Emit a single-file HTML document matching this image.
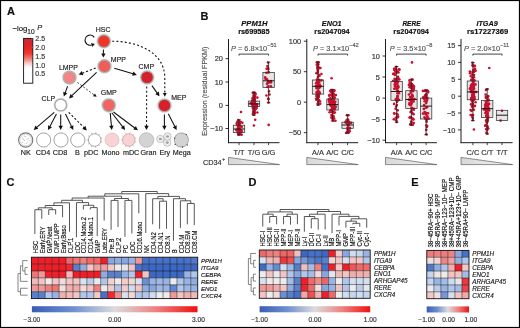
<!DOCTYPE html><html><head><meta charset="utf-8"><style>html,body{margin:0;padding:0;background:#fff;}svg{display:block;will-change:transform;}</style></head><body><svg width="520" height="328" viewBox="0 0 520 328" font-family='"Liberation Sans", sans-serif'>
<defs>
<linearGradient id="cbA" x1="0" y1="0" x2="0" y2="1"><stop offset="0" stop-color="#c92a30"/><stop offset="0.12" stop-color="#d8262b"/><stop offset="0.22" stop-color="#ea2224"/><stop offset="0.34" stop-color="#ef3b30"/><stop offset="0.45" stop-color="#f37a72"/><stop offset="0.55" stop-color="#f9c6c6"/><stop offset="0.62" stop-color="#fdeeee"/><stop offset="0.67" stop-color="#ffffff"/><stop offset="1" stop-color="#ffffff"/></linearGradient>
<linearGradient id="cbC" x1="0" y1="0" x2="1" y2="0"><stop offset="0" stop-color="#3a5db5"/><stop offset="0.25" stop-color="#6f8fd0"/><stop offset="0.5" stop-color="#dcdcdc"/><stop offset="0.75" stop-color="#ee8080"/><stop offset="1" stop-color="#ee1111"/></linearGradient>
<linearGradient id="tri" x1="0" y1="0" x2="1" y2="0"><stop offset="0" stop-color="#d8d8d8"/><stop offset="1" stop-color="#f4f4f4"/></linearGradient>
<marker id="ah" viewBox="0 0 10 10" refX="9" refY="5" markerWidth="4.2" markerHeight="4.2" markerUnits="userSpaceOnUse" orient="auto"><path d="M0,0L10,5L0,10z" fill="#111"/></marker>
</defs>
<rect x="0" y="0" width="520" height="328" fill="#fff"/>
<text x="7" y="15.2" font-size="11" text-anchor="start" font-weight="bold" font-style="normal" fill="#111"  stroke="#111" stroke-width="0.16">A</text>
<text x="12.4" y="30.6" font-size="7.8" fill="#222" stroke="#222" stroke-width="0.16">−log<tspan font-size="6.6" dy="3.1">10</tspan><tspan dx="2.6" dy="-3.6" font-size="7.4" font-style="italic">P</tspan></text>
<rect x="23.6" y="38.4" width="9.2" height="44.8" fill="url(#cbA)" stroke="#111" stroke-width="0.9"/>
<text x="35.3" y="41.0" font-size="7" text-anchor="start" font-weight="normal" font-style="normal" fill="#333"  stroke="#333" stroke-width="0.16">2.5</text>
<line x1="31.5" y1="38.50" x2="32.8" y2="38.50" stroke="#999" stroke-width="0.5"/>
<text x="35.3" y="49.85" font-size="7" text-anchor="start" font-weight="normal" font-style="normal" fill="#333"  stroke="#333" stroke-width="0.16">2.0</text>
<line x1="31.5" y1="47.35" x2="32.8" y2="47.35" stroke="#999" stroke-width="0.5"/>
<text x="35.3" y="58.7" font-size="7" text-anchor="start" font-weight="normal" font-style="normal" fill="#333"  stroke="#333" stroke-width="0.16">1.5</text>
<line x1="31.5" y1="56.20" x2="32.8" y2="56.20" stroke="#999" stroke-width="0.5"/>
<text x="35.3" y="67.55" font-size="7" text-anchor="start" font-weight="normal" font-style="normal" fill="#333"  stroke="#333" stroke-width="0.16">1.0</text>
<line x1="31.5" y1="65.05" x2="32.8" y2="65.05" stroke="#999" stroke-width="0.5"/>
<text x="35.3" y="76.4" font-size="7" text-anchor="start" font-weight="normal" font-style="normal" fill="#333"  stroke="#333" stroke-width="0.16">0.5</text>
<line x1="31.5" y1="73.90" x2="32.8" y2="73.90" stroke="#999" stroke-width="0.5"/>
<circle cx="103.9" cy="41.2" r="7.10" fill="#aab3b2"/>
<circle cx="103.9" cy="41.2" r="7.35" fill="none" stroke="#d5dada" stroke-width="0.5"/>
<circle cx="103.9" cy="41.2" r="5.7" fill="#ee3527"/>
<circle cx="104.5" cy="66.2" r="7.10" fill="#aab3b2"/>
<circle cx="104.5" cy="66.2" r="7.35" fill="none" stroke="#d5dada" stroke-width="0.5"/>
<circle cx="104.5" cy="66.2" r="5.7" fill="#ef5d56"/>
<circle cx="69.5" cy="77.6" r="7.10" fill="#aab3b2"/>
<circle cx="69.5" cy="77.6" r="7.35" fill="none" stroke="#d5dada" stroke-width="0.5"/>
<circle cx="69.5" cy="77.6" r="5.7" fill="#f28585"/>
<circle cx="147.1" cy="77.4" r="7.10" fill="#aab3b2"/>
<circle cx="147.1" cy="77.4" r="7.35" fill="none" stroke="#d5dada" stroke-width="0.5"/>
<circle cx="147.1" cy="77.4" r="5.7" fill="#d6202a"/>
<circle cx="60.7" cy="105.0" r="6.70" fill="#a8a8a8"/>
<circle cx="60.7" cy="105.0" r="6.95" fill="none" stroke="#d5dada" stroke-width="0.5"/>
<circle cx="60.7" cy="105.0" r="5.2" fill="#ffffff"/>
<circle cx="108.8" cy="105.3" r="7.10" fill="#aab3b2"/>
<circle cx="108.8" cy="105.3" r="7.35" fill="none" stroke="#d5dada" stroke-width="0.5"/>
<circle cx="108.8" cy="105.3" r="5.7" fill="#f06461"/>
<circle cx="164.5" cy="105.5" r="7.10" fill="#aab3b2"/>
<circle cx="164.5" cy="105.5" r="7.35" fill="none" stroke="#d5dada" stroke-width="0.5"/>
<circle cx="164.5" cy="105.5" r="5.7" fill="#d91f29"/>
<text x="103.2" y="31.8" font-size="7" text-anchor="middle" font-weight="normal" font-style="normal" fill="#222"  stroke="#222" stroke-width="0.16">HSC</text>
<text x="110.8" y="61.8" font-size="7" text-anchor="start" font-weight="normal" font-style="normal" fill="#222"  stroke="#222" stroke-width="0.16">MPP</text>
<text x="58.9" y="69.6" font-size="7" text-anchor="start" font-weight="normal" font-style="normal" fill="#222"  stroke="#222" stroke-width="0.16">LMPP</text>
<text x="138.5" y="68.5" font-size="7" text-anchor="start" font-weight="normal" font-style="normal" fill="#222"  stroke="#222" stroke-width="0.16">CMP</text>
<text x="41.6" y="101.0" font-size="7" text-anchor="start" font-weight="normal" font-style="normal" fill="#222"  stroke="#222" stroke-width="0.16">CLP</text>
<text x="100.7" y="95.1" font-size="7" text-anchor="start" font-weight="normal" font-style="normal" fill="#222"  stroke="#222" stroke-width="0.16">GMP</text>
<text x="171.2" y="99.9" font-size="7" text-anchor="start" font-weight="normal" font-style="normal" fill="#222"  stroke="#222" stroke-width="0.16">MEP</text>
<line x1="103.4" y1="49.6" x2="103.40" y2="53.70" stroke="#111" stroke-width="1.05"/>
<path d="M103.40,57.60L101.20,53.40L105.60,53.40z" fill="#111"/>
<line x1="95.7" y1="68.0" x2="82.34" y2="73.19" stroke="#111" stroke-width="1.05" stroke-dasharray="2.2,1.9"/>
<path d="M78.70,74.60L81.82,71.03L83.41,75.13z" fill="#111"/>
<line x1="96.6" y1="72.4" x2="71.84" y2="95.73" stroke="#111" stroke-width="1.05"/>
<path d="M69.00,98.40L70.55,93.92L73.57,97.12z" fill="#111"/>
<line x1="114.3" y1="68.2" x2="133.06" y2="73.79" stroke="#111" stroke-width="1.05"/>
<path d="M136.80,74.90L132.15,75.81L133.40,71.59z" fill="#111"/>
<line x1="67.6" y1="86.3" x2="65.16" y2="92.85" stroke="#111" stroke-width="1.05"/>
<path d="M63.80,96.50L63.20,91.80L67.33,93.33z" fill="#111"/>
<line x1="77.4" y1="82.4" x2="94.22" y2="94.95" stroke="#111" stroke-width="0.85" stroke-dasharray="1.8,1.9"/>
<path d="M96.70,96.80L92.96,96.13L94.99,93.40z" fill="#111"/>
<line x1="151.9" y1="85.6" x2="157.24" y2="93.12" stroke="#111" stroke-width="1.05"/>
<path d="M159.50,96.30L155.27,94.15L158.86,91.60z" fill="#111"/>
<line x1="146.7" y1="86.5" x2="146.52" y2="126.00" stroke="#111" stroke-width="1.05" stroke-dasharray="2,2.2"/>
<path d="M146.50,129.90L144.32,125.69L148.72,125.71z" fill="#111"/>
<path d="M112.2,41.2 C137,41.2 164.8,52 164.8,78 L164.8,93" fill="none" stroke="#111" stroke-width="1.1" stroke-dasharray="2,2.2"/>
<path d="M164.8,96.8 L162.9,92.9 L166.7,92.9z" fill="#111"/>
<path d="M94.20,37.33 A5.0,5.0 0 1,0 91.65,44.96" fill="none" stroke="#111" stroke-width="1.15"/>
<path d="M94.88,43.90 L92.29,46.95 L91.00,42.96z" fill="#111"/>
<line x1="54.3" y1="112.3" x2="36.67" y2="127.37" stroke="#111" stroke-width="1.05"/>
<path d="M33.70,129.90L35.46,125.50L38.32,128.84z" fill="#111"/>
<line x1="56.4" y1="113.9" x2="49.90" y2="126.44" stroke="#111" stroke-width="1.05"/>
<path d="M48.10,129.90L48.08,125.16L51.99,127.18z" fill="#111"/>
<line x1="60.7" y1="114.4" x2="60.70" y2="126.00" stroke="#111" stroke-width="1.05"/>
<path d="M60.70,129.90L58.50,125.70L62.90,125.70z" fill="#111"/>
<line x1="65.5" y1="113.9" x2="71.51" y2="126.39" stroke="#111" stroke-width="1.05"/>
<path d="M73.20,129.90L69.40,127.07L73.36,125.16z" fill="#111"/>
<line x1="68.7" y1="112.3" x2="84.04" y2="127.64" stroke="#111" stroke-width="1.05" stroke-dasharray="2.2,1.9"/>
<path d="M86.80,130.40L82.27,128.99L85.39,125.87z" fill="#111"/>
<line x1="110.2" y1="113.0" x2="111.43" y2="126.02" stroke="#111" stroke-width="1.05"/>
<path d="M111.80,129.90L109.21,125.93L113.59,125.51z" fill="#111"/>
<line x1="111.8" y1="112.8" x2="122.71" y2="126.82" stroke="#111" stroke-width="1.05"/>
<path d="M125.10,129.90L120.78,127.94L124.26,125.23z" fill="#111"/>
<line x1="113.5" y1="112.0" x2="134.78" y2="127.96" stroke="#111" stroke-width="1.05"/>
<path d="M137.90,130.30L133.22,129.54L135.86,126.02z" fill="#111"/>
<line x1="164.4" y1="114.4" x2="164.40" y2="126.00" stroke="#111" stroke-width="1.05"/>
<path d="M164.40,129.90L162.20,125.70L166.60,125.70z" fill="#111"/>
<line x1="168.3" y1="113.8" x2="174.81" y2="126.43" stroke="#111" stroke-width="1.05"/>
<path d="M176.60,129.90L172.72,127.17L176.63,125.16z" fill="#111"/>
<circle cx="25.7" cy="140.0" r="7.1" fill="#fff" stroke="#777" stroke-width="1.1"/>
<circle cx="25.7" cy="140.0" r="5.8" fill="none" stroke="#bbb" stroke-width="0.6"/>
<circle cx="22.7" cy="138.0" r="0.45" fill="#888"/>
<circle cx="25.7" cy="136.5" r="0.45" fill="#888"/>
<circle cx="28.2" cy="138.5" r="0.45" fill="#888"/>
<circle cx="24.7" cy="140.5" r="0.45" fill="#888"/>
<circle cx="27.7" cy="142.0" r="0.45" fill="#888"/>
<circle cx="22.7" cy="142.5" r="0.45" fill="#888"/>
<circle cx="26.2" cy="143.5" r="0.45" fill="#888"/>
<circle cx="29.2" cy="140.8" r="0.45" fill="#888"/>
<circle cx="24.2" cy="136.0" r="0.45" fill="#888"/>
<circle cx="26.9" cy="139.2" r="0.45" fill="#888"/>
<circle cx="23.4" cy="139.5" r="0.45" fill="#888"/>
<circle cx="43.6" cy="140.0" r="7.1" fill="#fff" stroke="#8a8a8a" stroke-width="0.8"/>
<circle cx="61.0" cy="140.0" r="7.1" fill="#fff" stroke="#8a8a8a" stroke-width="0.8"/>
<circle cx="77.8" cy="140.0" r="7.1" fill="#fff" stroke="#8a8a8a" stroke-width="0.8"/>
<circle cx="94.7" cy="140.0" r="6.3" fill="#fff" stroke="#888" stroke-width="0.7"/>
<line x1="100.72" y1="141.86" x2="102.15" y2="142.31" stroke="#888" stroke-width="0.6"/>
<line x1="98.76" y1="144.82" x2="99.72" y2="145.97" stroke="#888" stroke-width="0.6"/>
<line x1="95.51" y1="146.25" x2="95.70" y2="147.74" stroke="#888" stroke-width="0.6"/>
<line x1="92.00" y1="145.69" x2="91.36" y2="147.05" stroke="#888" stroke-width="0.6"/>
<line x1="89.35" y1="143.33" x2="88.08" y2="144.12" stroke="#888" stroke-width="0.6"/>
<line x1="88.40" y1="139.91" x2="86.90" y2="139.89" stroke="#888" stroke-width="0.6"/>
<line x1="89.45" y1="136.52" x2="88.20" y2="135.69" stroke="#888" stroke-width="0.6"/>
<line x1="92.17" y1="134.23" x2="91.56" y2="132.86" stroke="#888" stroke-width="0.6"/>
<line x1="95.69" y1="133.78" x2="95.92" y2="132.30" stroke="#888" stroke-width="0.6"/>
<line x1="98.89" y1="135.30" x2="99.89" y2="134.18" stroke="#888" stroke-width="0.6"/>
<line x1="100.77" y1="138.31" x2="102.21" y2="137.91" stroke="#888" stroke-width="0.6"/>
<circle cx="112.0" cy="140.0" r="7.0" fill="#f9d3d3" stroke="#d9b0b0" stroke-width="0.6"/>
<circle cx="128.8" cy="140.0" r="6.3" fill="#f9d3d3" stroke="#c09a9a" stroke-width="0.7"/>
<line x1="134.82" y1="141.86" x2="136.25" y2="142.31" stroke="#c09a9a" stroke-width="0.6"/>
<line x1="132.86" y1="144.82" x2="133.82" y2="145.97" stroke="#c09a9a" stroke-width="0.6"/>
<line x1="129.61" y1="146.25" x2="129.80" y2="147.74" stroke="#c09a9a" stroke-width="0.6"/>
<line x1="126.10" y1="145.69" x2="125.46" y2="147.05" stroke="#c09a9a" stroke-width="0.6"/>
<line x1="123.45" y1="143.33" x2="122.18" y2="144.12" stroke="#c09a9a" stroke-width="0.6"/>
<line x1="122.50" y1="139.91" x2="121.00" y2="139.89" stroke="#c09a9a" stroke-width="0.6"/>
<line x1="123.55" y1="136.52" x2="122.30" y2="135.69" stroke="#c09a9a" stroke-width="0.6"/>
<line x1="126.27" y1="134.23" x2="125.66" y2="132.86" stroke="#c09a9a" stroke-width="0.6"/>
<line x1="129.79" y1="133.78" x2="130.02" y2="132.30" stroke="#c09a9a" stroke-width="0.6"/>
<line x1="132.99" y1="135.30" x2="133.99" y2="134.18" stroke="#c09a9a" stroke-width="0.6"/>
<line x1="134.87" y1="138.31" x2="136.31" y2="137.91" stroke="#c09a9a" stroke-width="0.6"/>
<circle cx="146.5" cy="140.0" r="7.3" fill="#d3d3d3" stroke="#aaa" stroke-width="0.7"/>
<circle cx="160.4" cy="139.0" r="3.7" fill="#fafafa" stroke="#9a9a9a" stroke-width="0.6"/>
<circle cx="160.4" cy="139.0" r="2.5" fill="none" stroke="#e2e2e2" stroke-width="0.8"/>
<ellipse cx="160.4" cy="139.0" rx="1.6" ry="1.3" fill="#a0a0a0"/>
<circle cx="167.2" cy="142.6" r="3.7" fill="#fafafa" stroke="#9a9a9a" stroke-width="0.6"/>
<circle cx="167.2" cy="142.6" r="2.5" fill="none" stroke="#e2e2e2" stroke-width="0.8"/>
<ellipse cx="167.2" cy="142.6" rx="1.6" ry="1.3" fill="#a0a0a0"/>
<circle cx="167.5" cy="136.5" r="3.7" fill="#fafafa" stroke="#9a9a9a" stroke-width="0.6"/>
<circle cx="167.5" cy="136.5" r="2.5" fill="none" stroke="#e2e2e2" stroke-width="0.8"/>
<ellipse cx="167.5" cy="136.5" rx="1.6" ry="1.3" fill="#a0a0a0"/>
<path d="M181.5,133.0 C185.5,133.0 188.3,135.6 188.3,139.6 C188.3,143.8 185.6,147.0 181.4,147.0 C177.0,147.0 174.4,144.2 174.4,140.2 C174.4,136.0 177.2,133.0 181.5,133.0z" fill="#d3d3d3" stroke="#777" stroke-width="0.6"/>
<circle cx="186.4" cy="134.6" r="0.7" fill="#444"/>
<circle cx="187.2" cy="145.0" r="0.7" fill="#444"/>
<circle cx="182.5" cy="147.0" r="0.7" fill="#444"/>
<circle cx="175.2" cy="144.4" r="0.7" fill="#444"/>
<circle cx="174.6" cy="138.2" r="0.7" fill="#444"/>
<text x="20.8" y="155.4" font-size="7.2" text-anchor="start" font-weight="normal" font-style="normal" fill="#222"  stroke="#222" stroke-width="0.16">NK</text>
<text x="35.8" y="155.4" font-size="7.2" text-anchor="start" font-weight="normal" font-style="normal" fill="#222"  stroke="#222" stroke-width="0.16">CD4</text>
<text x="52.8" y="155.4" font-size="7.2" text-anchor="start" font-weight="normal" font-style="normal" fill="#222"  stroke="#222" stroke-width="0.16">CD8</text>
<text x="74.9" y="155.4" font-size="7.2" text-anchor="start" font-weight="normal" font-style="normal" fill="#222"  stroke="#222" stroke-width="0.16">B</text>
<text x="84.1" y="155.4" font-size="7.2" text-anchor="start" font-weight="normal" font-style="normal" fill="#222"  stroke="#222" stroke-width="0.16">pDC</text>
<text x="101.5" y="155.4" font-size="7.2" text-anchor="start" font-weight="normal" font-style="normal" fill="#222"  stroke="#222" stroke-width="0.16">Mono</text>
<text x="122.9" y="155.4" font-size="7.2" text-anchor="start" font-weight="normal" font-style="normal" fill="#222"  stroke="#222" stroke-width="0.16">mDC</text>
<text x="140.5" y="155.4" font-size="7.2" text-anchor="start" font-weight="normal" font-style="normal" fill="#222"  stroke="#222" stroke-width="0.16">Gran</text>
<text x="159.4" y="155.4" font-size="7.2" text-anchor="start" font-weight="normal" font-style="normal" fill="#222"  stroke="#222" stroke-width="0.16">Ery</text>
<text x="172.7" y="155.4" font-size="7.2" text-anchor="start" font-weight="normal" font-style="normal" fill="#222"  stroke="#222" stroke-width="0.16">Mega</text>
<text x="200.6" y="19.6" font-size="11" text-anchor="start" font-weight="bold" font-style="normal" fill="#111"  stroke="#111" stroke-width="0.16">B</text>
<text x="254.35" y="25.8" font-size="7.3" text-anchor="middle" font-weight="bold" font-style="italic" fill="#111" textLength="26.2" lengthAdjust="spacingAndGlyphs" stroke="#111" stroke-width="0.16">PPM1H</text>
<text x="253.85" y="34.3" font-size="7.1" text-anchor="middle" font-weight="bold" font-style="normal" fill="#111" textLength="31.4" lengthAdjust="spacingAndGlyphs" stroke="#111" stroke-width="0.16">rs699585</text>
<text x="231" y="50.6" font-size="7.4" fill="#555" stroke="#555" stroke-width="0.16"><tspan font-style="italic">P</tspan> = 6.8×10<tspan font-size="5.6" dy="-3.4">−51</tspan></text>
<path d="M239,55.6 L239,54.1 L268.6,54.1 L268.6,55.6" fill="none" stroke="#222" stroke-width="0.85"/>
<line x1="228.5" y1="39" x2="228.5" y2="143.1" stroke="#111" stroke-width="0.95"/>
<line x1="228.05" y1="142.7" x2="279.5" y2="142.7" stroke="#111" stroke-width="0.95"/>
<line x1="225.5" y1="58.7" x2="228.5" y2="58.7" stroke="#111" stroke-width="0.85"/>
<text x="222.9" y="61.3" font-size="7.4" text-anchor="end" font-weight="normal" font-style="normal" fill="#333"  stroke="#333" stroke-width="0.16">20</text>
<line x1="225.5" y1="82.0" x2="228.5" y2="82.0" stroke="#111" stroke-width="0.85"/>
<text x="222.9" y="84.6" font-size="7.4" text-anchor="end" font-weight="normal" font-style="normal" fill="#333"  stroke="#333" stroke-width="0.16">10</text>
<line x1="225.5" y1="105.4" x2="228.5" y2="105.4" stroke="#111" stroke-width="0.85"/>
<text x="222.9" y="108.0" font-size="7.4" text-anchor="end" font-weight="normal" font-style="normal" fill="#333"  stroke="#333" stroke-width="0.16">0</text>
<line x1="225.5" y1="128.5" x2="228.5" y2="128.5" stroke="#111" stroke-width="0.85"/>
<text x="222.9" y="131.1" font-size="7.4" text-anchor="end" font-weight="normal" font-style="normal" fill="#333"  stroke="#333" stroke-width="0.16">−10</text>
<line x1="239" y1="142.7" x2="239" y2="145.2" stroke="#111" stroke-width="0.8"/>
<text x="239" y="155.1" font-size="7.4" text-anchor="middle" font-weight="normal" font-style="normal" fill="#333"  stroke="#333" stroke-width="0.16">T/T</text>
<line x1="254" y1="142.7" x2="254" y2="145.2" stroke="#111" stroke-width="0.8"/>
<text x="254" y="155.1" font-size="7.4" text-anchor="middle" font-weight="normal" font-style="normal" fill="#333"  stroke="#333" stroke-width="0.16">T/G</text>
<line x1="268.6" y1="142.7" x2="268.6" y2="145.2" stroke="#111" stroke-width="0.8"/>
<text x="268.6" y="155.1" font-size="7.4" text-anchor="middle" font-weight="normal" font-style="normal" fill="#333"  stroke="#333" stroke-width="0.16">G/G</text>
<path d="M228.5,157.4 L279.5,164.6 L228.5,164.6 z" fill="url(#tri)" stroke="#444" stroke-width="0.6"/>
<rect x="233.3" y="125.2" width="11.4" height="7.20" fill="#e6e6e6"/>
<circle cx="240.19" cy="126.32" r="1.3" fill="#c8102e"/>
<circle cx="240.65" cy="121.80" r="1.3" fill="#c8102e"/>
<circle cx="238.68" cy="129.49" r="1.3" fill="#c8102e"/>
<circle cx="239.36" cy="129.10" r="1.3" fill="#c8102e"/>
<circle cx="238.51" cy="120.98" r="1.3" fill="#c8102e"/>
<circle cx="239.22" cy="122.20" r="1.3" fill="#c8102e"/>
<circle cx="239.33" cy="127.85" r="1.3" fill="#c8102e"/>
<circle cx="238.36" cy="124.73" r="1.3" fill="#c8102e"/>
<circle cx="240.74" cy="130.73" r="1.3" fill="#c8102e"/>
<circle cx="238.41" cy="127.43" r="1.3" fill="#c8102e"/>
<circle cx="241.65" cy="134.70" r="1.3" fill="#c8102e"/>
<circle cx="239.80" cy="125.80" r="1.3" fill="#c8102e"/>
<circle cx="239.89" cy="123.28" r="1.3" fill="#c8102e"/>
<circle cx="239.81" cy="132.89" r="1.3" fill="#c8102e"/>
<circle cx="237.26" cy="123.97" r="1.3" fill="#c8102e"/>
<circle cx="238.02" cy="127.06" r="1.3" fill="#c8102e"/>
<circle cx="239.45" cy="129.65" r="1.3" fill="#c8102e"/>
<circle cx="239.19" cy="124.42" r="1.3" fill="#c8102e"/>
<circle cx="237.91" cy="131.45" r="1.3" fill="#c8102e"/>
<circle cx="239.53" cy="130.16" r="1.3" fill="#c8102e"/>
<circle cx="238.23" cy="128.29" r="1.3" fill="#c8102e"/>
<circle cx="241.37" cy="131.71" r="1.3" fill="#c8102e"/>
<circle cx="237.47" cy="125.10" r="1.3" fill="#c8102e"/>
<circle cx="238.23" cy="133.49" r="1.3" fill="#c8102e"/>
<circle cx="238.07" cy="132.12" r="1.3" fill="#c8102e"/>
<circle cx="242.40" cy="122.76" r="1.3" fill="#c8102e"/>
<circle cx="239.04" cy="127.76" r="1.3" fill="#c8102e"/>
<circle cx="238.20" cy="128.83" r="1.3" fill="#c8102e"/>
<circle cx="237.83" cy="121.03" r="1.3" fill="#c8102e"/>
<circle cx="236.93" cy="129.99" r="1.3" fill="#c8102e"/>
<circle cx="238.16" cy="133.50" r="1.3" fill="#c8102e"/>
<circle cx="240.99" cy="130.28" r="1.3" fill="#c8102e"/>
<circle cx="236.42" cy="130.09" r="1.3" fill="#c8102e"/>
<circle cx="239.73" cy="134.30" r="1.3" fill="#c8102e"/>
<circle cx="238.75" cy="128.61" r="1.3" fill="#c8102e"/>
<circle cx="238.58" cy="131.74" r="1.3" fill="#c8102e"/>
<circle cx="241.60" cy="131.00" r="1.3" fill="#c8102e"/>
<circle cx="238.89" cy="125.73" r="1.3" fill="#c8102e"/>
<circle cx="238.85" cy="127.26" r="1.3" fill="#c8102e"/>
<circle cx="238.74" cy="128.42" r="1.3" fill="#c8102e"/>
<circle cx="239.36" cy="123.73" r="1.3" fill="#c8102e"/>
<circle cx="239.33" cy="132.50" r="1.3" fill="#c8102e"/>
<circle cx="239.02" cy="122.99" r="1.3" fill="#c8102e"/>
<circle cx="240.39" cy="133.45" r="1.3" fill="#c8102e"/>
<circle cx="237.32" cy="121.98" r="1.3" fill="#c8102e"/>
<circle cx="239.55" cy="133.59" r="1.3" fill="#c8102e"/>
<circle cx="239.74" cy="132.92" r="1.3" fill="#c8102e"/>
<circle cx="238.15" cy="127.71" r="1.3" fill="#c8102e"/>
<circle cx="241.63" cy="126.85" r="1.3" fill="#c8102e"/>
<circle cx="236.66" cy="123.41" r="1.3" fill="#c8102e"/>
<circle cx="238.48" cy="120.10" r="1.3" fill="#c8102e"/>
<circle cx="238.57" cy="134.70" r="1.3" fill="#c8102e"/>
<circle cx="241.00" cy="112.00" r="1.3" fill="#c8102e"/>
<line x1="239" y1="119.8" x2="239" y2="125.2" stroke="#222" stroke-width="0.8"/>
<line x1="239" y1="132.4" x2="239" y2="135.0" stroke="#222" stroke-width="0.8"/>
<line x1="237.2" y1="119.8" x2="240.8" y2="119.8" stroke="#222" stroke-width="0.8"/>
<line x1="237.2" y1="135.0" x2="240.8" y2="135.0" stroke="#222" stroke-width="0.8"/>
<rect x="233.3" y="125.2" width="11.4" height="7.20" fill="none" stroke="#333" stroke-width="0.75"/>
<line x1="233.3" y1="129.0" x2="244.7" y2="129.0" stroke="#111" stroke-width="0.95"/>
<rect x="248.3" y="101.1" width="11.4" height="5.40" fill="#e6e6e6"/>
<circle cx="252.14" cy="100.63" r="1.3" fill="#c8102e"/>
<circle cx="254.18" cy="101.24" r="1.3" fill="#c8102e"/>
<circle cx="252.83" cy="92.72" r="1.3" fill="#c8102e"/>
<circle cx="254.66" cy="104.59" r="1.3" fill="#c8102e"/>
<circle cx="253.38" cy="113.13" r="1.3" fill="#c8102e"/>
<circle cx="252.43" cy="105.12" r="1.3" fill="#c8102e"/>
<circle cx="256.83" cy="105.73" r="1.3" fill="#c8102e"/>
<circle cx="255.00" cy="107.11" r="1.3" fill="#c8102e"/>
<circle cx="254.41" cy="110.10" r="1.3" fill="#c8102e"/>
<circle cx="252.67" cy="102.77" r="1.3" fill="#c8102e"/>
<circle cx="253.67" cy="96.70" r="1.3" fill="#c8102e"/>
<circle cx="253.62" cy="95.45" r="1.3" fill="#c8102e"/>
<circle cx="254.67" cy="99.93" r="1.3" fill="#c8102e"/>
<circle cx="255.09" cy="94.90" r="1.3" fill="#c8102e"/>
<circle cx="254.38" cy="92.43" r="1.3" fill="#c8102e"/>
<circle cx="254.53" cy="102.37" r="1.3" fill="#c8102e"/>
<circle cx="255.36" cy="93.80" r="1.3" fill="#c8102e"/>
<circle cx="252.63" cy="98.14" r="1.3" fill="#c8102e"/>
<circle cx="253.23" cy="101.13" r="1.3" fill="#c8102e"/>
<circle cx="255.09" cy="97.33" r="1.3" fill="#c8102e"/>
<circle cx="255.57" cy="109.20" r="1.3" fill="#c8102e"/>
<circle cx="253.93" cy="103.72" r="1.3" fill="#c8102e"/>
<circle cx="255.03" cy="96.10" r="1.3" fill="#c8102e"/>
<circle cx="254.77" cy="101.27" r="1.3" fill="#c8102e"/>
<circle cx="254.16" cy="108.53" r="1.3" fill="#c8102e"/>
<circle cx="254.26" cy="113.05" r="1.3" fill="#c8102e"/>
<circle cx="255.06" cy="104.19" r="1.3" fill="#c8102e"/>
<circle cx="255.40" cy="93.87" r="1.3" fill="#c8102e"/>
<circle cx="256.77" cy="104.19" r="1.3" fill="#c8102e"/>
<circle cx="253.62" cy="105.94" r="1.3" fill="#c8102e"/>
<circle cx="253.43" cy="101.22" r="1.3" fill="#c8102e"/>
<circle cx="254.63" cy="106.91" r="1.3" fill="#c8102e"/>
<circle cx="254.23" cy="104.24" r="1.3" fill="#c8102e"/>
<circle cx="252.77" cy="100.34" r="1.3" fill="#c8102e"/>
<circle cx="256.73" cy="107.99" r="1.3" fill="#c8102e"/>
<circle cx="253.74" cy="107.83" r="1.3" fill="#c8102e"/>
<circle cx="253.94" cy="108.20" r="1.3" fill="#c8102e"/>
<circle cx="253.00" cy="104.08" r="1.3" fill="#c8102e"/>
<circle cx="254.33" cy="102.28" r="1.3" fill="#c8102e"/>
<circle cx="254.06" cy="101.43" r="1.3" fill="#c8102e"/>
<circle cx="252.76" cy="101.20" r="1.3" fill="#c8102e"/>
<circle cx="250.72" cy="103.31" r="1.3" fill="#c8102e"/>
<circle cx="257.40" cy="112.48" r="1.3" fill="#c8102e"/>
<circle cx="253.74" cy="102.38" r="1.3" fill="#c8102e"/>
<circle cx="254.13" cy="100.27" r="1.3" fill="#c8102e"/>
<circle cx="254.92" cy="99.80" r="1.3" fill="#c8102e"/>
<circle cx="256.17" cy="105.19" r="1.3" fill="#c8102e"/>
<circle cx="252.43" cy="103.67" r="1.3" fill="#c8102e"/>
<circle cx="254.18" cy="105.49" r="1.3" fill="#c8102e"/>
<circle cx="253.44" cy="105.57" r="1.3" fill="#c8102e"/>
<circle cx="254.47" cy="111.41" r="1.3" fill="#c8102e"/>
<circle cx="251.72" cy="103.65" r="1.3" fill="#c8102e"/>
<circle cx="254.31" cy="99.05" r="1.3" fill="#c8102e"/>
<circle cx="252.78" cy="107.67" r="1.3" fill="#c8102e"/>
<circle cx="252.87" cy="113.90" r="1.3" fill="#c8102e"/>
<circle cx="254.86" cy="112.88" r="1.3" fill="#c8102e"/>
<circle cx="254.35" cy="106.24" r="1.3" fill="#c8102e"/>
<circle cx="254.64" cy="98.22" r="1.3" fill="#c8102e"/>
<circle cx="254.27" cy="111.23" r="1.3" fill="#c8102e"/>
<circle cx="253.26" cy="108.46" r="1.3" fill="#c8102e"/>
<circle cx="253.28" cy="114.26" r="1.3" fill="#c8102e"/>
<circle cx="252.91" cy="104.41" r="1.3" fill="#c8102e"/>
<circle cx="257.40" cy="97.59" r="1.3" fill="#c8102e"/>
<circle cx="254.33" cy="105.46" r="1.3" fill="#c8102e"/>
<circle cx="255.37" cy="104.18" r="1.3" fill="#c8102e"/>
<circle cx="253.40" cy="110.00" r="1.3" fill="#c8102e"/>
<circle cx="254.26" cy="108.45" r="1.3" fill="#c8102e"/>
<circle cx="255.03" cy="101.58" r="1.3" fill="#c8102e"/>
<circle cx="253.07" cy="100.84" r="1.3" fill="#c8102e"/>
<circle cx="253.44" cy="102.99" r="1.3" fill="#c8102e"/>
<circle cx="255.10" cy="97.59" r="1.3" fill="#c8102e"/>
<circle cx="253.30" cy="103.43" r="1.3" fill="#c8102e"/>
<circle cx="255.21" cy="104.77" r="1.3" fill="#c8102e"/>
<circle cx="253.17" cy="111.72" r="1.3" fill="#c8102e"/>
<circle cx="252.33" cy="103.92" r="1.3" fill="#c8102e"/>
<circle cx="253.66" cy="93.49" r="1.3" fill="#c8102e"/>
<circle cx="254.05" cy="103.23" r="1.3" fill="#c8102e"/>
<circle cx="254.11" cy="107.63" r="1.3" fill="#c8102e"/>
<circle cx="253.48" cy="92.70" r="1.3" fill="#c8102e"/>
<circle cx="253.96" cy="114.80" r="1.3" fill="#c8102e"/>
<circle cx="255.20" cy="119.80" r="1.3" fill="#c8102e"/>
<circle cx="253.90" cy="125.50" r="1.3" fill="#c8102e"/>
<line x1="254" y1="92.4" x2="254" y2="101.1" stroke="#222" stroke-width="0.8"/>
<line x1="254" y1="106.5" x2="254" y2="115.1" stroke="#222" stroke-width="0.8"/>
<line x1="252.2" y1="92.4" x2="255.8" y2="92.4" stroke="#222" stroke-width="0.8"/>
<line x1="252.2" y1="115.1" x2="255.8" y2="115.1" stroke="#222" stroke-width="0.8"/>
<rect x="248.3" y="101.1" width="11.4" height="5.40" fill="none" stroke="#333" stroke-width="0.75"/>
<line x1="248.3" y1="103.9" x2="259.7" y2="103.9" stroke="#111" stroke-width="0.95"/>
<rect x="262.90000000000003" y="72.5" width="11.4" height="15.10" fill="#e6e6e6"/>
<circle cx="267.43" cy="86.93" r="1.3" fill="#c8102e"/>
<circle cx="268.17" cy="81.30" r="1.3" fill="#c8102e"/>
<circle cx="268.74" cy="82.31" r="1.3" fill="#c8102e"/>
<circle cx="267.95" cy="82.44" r="1.3" fill="#c8102e"/>
<circle cx="268.19" cy="72.45" r="1.3" fill="#c8102e"/>
<circle cx="270.97" cy="81.01" r="1.3" fill="#c8102e"/>
<circle cx="268.79" cy="82.48" r="1.3" fill="#c8102e"/>
<circle cx="265.52" cy="78.92" r="1.3" fill="#c8102e"/>
<circle cx="266.92" cy="83.86" r="1.3" fill="#c8102e"/>
<circle cx="268.54" cy="86.04" r="1.3" fill="#c8102e"/>
<circle cx="267.04" cy="79.22" r="1.3" fill="#c8102e"/>
<circle cx="268.27" cy="98.49" r="1.3" fill="#c8102e"/>
<circle cx="270.99" cy="86.22" r="1.3" fill="#c8102e"/>
<circle cx="266.26" cy="72.82" r="1.3" fill="#c8102e"/>
<circle cx="271.11" cy="82.42" r="1.3" fill="#c8102e"/>
<circle cx="267.66" cy="68.57" r="1.3" fill="#c8102e"/>
<circle cx="268.09" cy="67.99" r="1.3" fill="#c8102e"/>
<circle cx="268.79" cy="72.19" r="1.3" fill="#c8102e"/>
<circle cx="267.41" cy="66.05" r="1.3" fill="#c8102e"/>
<circle cx="266.46" cy="95.43" r="1.3" fill="#c8102e"/>
<circle cx="268.17" cy="69.21" r="1.3" fill="#c8102e"/>
<circle cx="266.59" cy="68.79" r="1.3" fill="#c8102e"/>
<circle cx="269.57" cy="94.50" r="1.3" fill="#c8102e"/>
<circle cx="268.40" cy="99.28" r="1.3" fill="#c8102e"/>
<circle cx="265.20" cy="77.42" r="1.3" fill="#c8102e"/>
<circle cx="268.94" cy="91.40" r="1.3" fill="#c8102e"/>
<circle cx="268.06" cy="62.50" r="1.3" fill="#c8102e"/>
<circle cx="268.49" cy="102.50" r="1.3" fill="#c8102e"/>
<circle cx="268.70" cy="124.90" r="1.3" fill="#c8102e"/>
<line x1="268.6" y1="62.2" x2="268.6" y2="72.5" stroke="#222" stroke-width="0.8"/>
<line x1="268.6" y1="87.6" x2="268.6" y2="102.8" stroke="#222" stroke-width="0.8"/>
<line x1="266.8" y1="62.2" x2="270.40000000000003" y2="62.2" stroke="#222" stroke-width="0.8"/>
<line x1="266.8" y1="102.8" x2="270.40000000000003" y2="102.8" stroke="#222" stroke-width="0.8"/>
<rect x="262.90000000000003" y="72.5" width="11.4" height="15.10" fill="none" stroke="#333" stroke-width="0.75"/>
<line x1="262.90000000000003" y1="80.8" x2="274.3" y2="80.8" stroke="#111" stroke-width="0.95"/>
<text x="331.7" y="25.8" font-size="7.3" text-anchor="middle" font-weight="bold" font-style="italic" fill="#111" textLength="19.8" lengthAdjust="spacingAndGlyphs" stroke="#111" stroke-width="0.16">ENO1</text>
<text x="332.0" y="34.3" font-size="7.1" text-anchor="middle" font-weight="bold" font-style="normal" fill="#111" textLength="35.4" lengthAdjust="spacingAndGlyphs" stroke="#111" stroke-width="0.16">rs2047094</text>
<text x="313" y="50.6" font-size="7.4" fill="#555" stroke="#555" stroke-width="0.16"><tspan font-style="italic">P</tspan> = 3.1×10<tspan font-size="5.6" dy="-3.4">−42</tspan></text>
<path d="M318,55.6 L318,54.1 L347.6,54.1 L347.6,55.6" fill="none" stroke="#222" stroke-width="0.85"/>
<line x1="306.8" y1="39" x2="306.8" y2="143.1" stroke="#111" stroke-width="0.95"/>
<line x1="306.35" y1="142.7" x2="358.2" y2="142.7" stroke="#111" stroke-width="0.95"/>
<line x1="303.8" y1="41.2" x2="306.8" y2="41.2" stroke="#111" stroke-width="0.85"/>
<text x="301.2" y="43.8" font-size="7.4" text-anchor="end" font-weight="normal" font-style="normal" fill="#333"  stroke="#333" stroke-width="0.16">100</text>
<line x1="303.8" y1="71.7" x2="306.8" y2="71.7" stroke="#111" stroke-width="0.85"/>
<text x="301.2" y="74.3" font-size="7.4" text-anchor="end" font-weight="normal" font-style="normal" fill="#333"  stroke="#333" stroke-width="0.16">50</text>
<line x1="303.8" y1="102.2" x2="306.8" y2="102.2" stroke="#111" stroke-width="0.85"/>
<text x="301.2" y="104.8" font-size="7.4" text-anchor="end" font-weight="normal" font-style="normal" fill="#333"  stroke="#333" stroke-width="0.16">0</text>
<line x1="303.8" y1="132.7" x2="306.8" y2="132.7" stroke="#111" stroke-width="0.85"/>
<text x="301.2" y="135.3" font-size="7.4" text-anchor="end" font-weight="normal" font-style="normal" fill="#333"  stroke="#333" stroke-width="0.16">−50</text>
<line x1="318" y1="142.7" x2="318" y2="145.2" stroke="#111" stroke-width="0.8"/>
<text x="318" y="155.1" font-size="7.4" text-anchor="middle" font-weight="normal" font-style="normal" fill="#333"  stroke="#333" stroke-width="0.16">A/A</text>
<line x1="332.5" y1="142.7" x2="332.5" y2="145.2" stroke="#111" stroke-width="0.8"/>
<text x="332.5" y="155.1" font-size="7.4" text-anchor="middle" font-weight="normal" font-style="normal" fill="#333"  stroke="#333" stroke-width="0.16">A/C</text>
<line x1="347.6" y1="142.7" x2="347.6" y2="145.2" stroke="#111" stroke-width="0.8"/>
<text x="347.6" y="155.1" font-size="7.4" text-anchor="middle" font-weight="normal" font-style="normal" fill="#333"  stroke="#333" stroke-width="0.16">C/C</text>
<path d="M306.8,157.4 L358.2,164.6 L306.8,164.6 z" fill="url(#tri)" stroke="#444" stroke-width="0.6"/>
<rect x="312.3" y="80.0" width="11.4" height="14.10" fill="#e6e6e6"/>
<circle cx="317.51" cy="86.79" r="1.3" fill="#c8102e"/>
<circle cx="318.78" cy="81.73" r="1.3" fill="#c8102e"/>
<circle cx="319.77" cy="93.23" r="1.3" fill="#c8102e"/>
<circle cx="318.22" cy="84.80" r="1.3" fill="#c8102e"/>
<circle cx="317.04" cy="64.20" r="1.3" fill="#c8102e"/>
<circle cx="319.71" cy="86.68" r="1.3" fill="#c8102e"/>
<circle cx="320.46" cy="68.07" r="1.3" fill="#c8102e"/>
<circle cx="317.77" cy="103.48" r="1.3" fill="#c8102e"/>
<circle cx="317.96" cy="70.98" r="1.3" fill="#c8102e"/>
<circle cx="318.40" cy="94.84" r="1.3" fill="#c8102e"/>
<circle cx="319.01" cy="80.52" r="1.3" fill="#c8102e"/>
<circle cx="319.07" cy="100.41" r="1.3" fill="#c8102e"/>
<circle cx="317.96" cy="96.28" r="1.3" fill="#c8102e"/>
<circle cx="318.80" cy="100.79" r="1.3" fill="#c8102e"/>
<circle cx="317.81" cy="88.50" r="1.3" fill="#c8102e"/>
<circle cx="317.42" cy="67.56" r="1.3" fill="#c8102e"/>
<circle cx="317.52" cy="92.17" r="1.3" fill="#c8102e"/>
<circle cx="318.25" cy="101.75" r="1.3" fill="#c8102e"/>
<circle cx="318.19" cy="90.49" r="1.3" fill="#c8102e"/>
<circle cx="317.45" cy="97.84" r="1.3" fill="#c8102e"/>
<circle cx="319.00" cy="68.25" r="1.3" fill="#c8102e"/>
<circle cx="316.83" cy="82.25" r="1.3" fill="#c8102e"/>
<circle cx="318.99" cy="87.96" r="1.3" fill="#c8102e"/>
<circle cx="317.51" cy="72.62" r="1.3" fill="#c8102e"/>
<circle cx="318.05" cy="87.14" r="1.3" fill="#c8102e"/>
<circle cx="318.67" cy="74.69" r="1.3" fill="#c8102e"/>
<circle cx="318.36" cy="67.00" r="1.3" fill="#c8102e"/>
<circle cx="319.16" cy="81.39" r="1.3" fill="#c8102e"/>
<circle cx="317.59" cy="94.28" r="1.3" fill="#c8102e"/>
<circle cx="319.60" cy="75.71" r="1.3" fill="#c8102e"/>
<circle cx="319.06" cy="82.44" r="1.3" fill="#c8102e"/>
<circle cx="318.12" cy="63.93" r="1.3" fill="#c8102e"/>
<circle cx="317.14" cy="93.57" r="1.3" fill="#c8102e"/>
<circle cx="317.71" cy="85.66" r="1.3" fill="#c8102e"/>
<circle cx="320.03" cy="101.56" r="1.3" fill="#c8102e"/>
<circle cx="319.60" cy="84.59" r="1.3" fill="#c8102e"/>
<circle cx="318.71" cy="86.17" r="1.3" fill="#c8102e"/>
<circle cx="316.79" cy="86.51" r="1.3" fill="#c8102e"/>
<circle cx="319.27" cy="92.16" r="1.3" fill="#c8102e"/>
<circle cx="317.86" cy="96.82" r="1.3" fill="#c8102e"/>
<circle cx="317.06" cy="92.75" r="1.3" fill="#c8102e"/>
<circle cx="316.92" cy="82.46" r="1.3" fill="#c8102e"/>
<circle cx="318.37" cy="67.31" r="1.3" fill="#c8102e"/>
<circle cx="318.39" cy="93.82" r="1.3" fill="#c8102e"/>
<circle cx="318.30" cy="80.14" r="1.3" fill="#c8102e"/>
<circle cx="318.50" cy="97.19" r="1.3" fill="#c8102e"/>
<circle cx="317.45" cy="98.48" r="1.3" fill="#c8102e"/>
<circle cx="317.00" cy="79.55" r="1.3" fill="#c8102e"/>
<circle cx="317.21" cy="81.09" r="1.3" fill="#c8102e"/>
<circle cx="318.21" cy="84.93" r="1.3" fill="#c8102e"/>
<circle cx="321.40" cy="80.33" r="1.3" fill="#c8102e"/>
<circle cx="317.11" cy="87.77" r="1.3" fill="#c8102e"/>
<circle cx="319.18" cy="79.68" r="1.3" fill="#c8102e"/>
<circle cx="317.74" cy="82.69" r="1.3" fill="#c8102e"/>
<circle cx="316.83" cy="62.23" r="1.3" fill="#c8102e"/>
<circle cx="319.08" cy="86.39" r="1.3" fill="#c8102e"/>
<circle cx="317.86" cy="77.12" r="1.3" fill="#c8102e"/>
<circle cx="318.00" cy="80.36" r="1.3" fill="#c8102e"/>
<circle cx="317.67" cy="69.93" r="1.3" fill="#c8102e"/>
<circle cx="318.24" cy="64.62" r="1.3" fill="#c8102e"/>
<circle cx="318.20" cy="81.37" r="1.3" fill="#c8102e"/>
<circle cx="319.85" cy="87.21" r="1.3" fill="#c8102e"/>
<circle cx="316.78" cy="94.11" r="1.3" fill="#c8102e"/>
<circle cx="316.14" cy="98.87" r="1.3" fill="#c8102e"/>
<circle cx="316.14" cy="83.52" r="1.3" fill="#c8102e"/>
<circle cx="321.40" cy="73.93" r="1.3" fill="#c8102e"/>
<circle cx="317.74" cy="93.29" r="1.3" fill="#c8102e"/>
<circle cx="317.67" cy="96.94" r="1.3" fill="#c8102e"/>
<circle cx="316.41" cy="99.47" r="1.3" fill="#c8102e"/>
<circle cx="316.37" cy="96.02" r="1.3" fill="#c8102e"/>
<circle cx="316.36" cy="73.27" r="1.3" fill="#c8102e"/>
<circle cx="317.75" cy="96.93" r="1.3" fill="#c8102e"/>
<circle cx="318.86" cy="95.73" r="1.3" fill="#c8102e"/>
<circle cx="316.36" cy="99.51" r="1.3" fill="#c8102e"/>
<circle cx="317.65" cy="92.01" r="1.3" fill="#c8102e"/>
<circle cx="317.05" cy="65.40" r="1.3" fill="#c8102e"/>
<circle cx="317.58" cy="72.87" r="1.3" fill="#c8102e"/>
<circle cx="318.51" cy="96.96" r="1.3" fill="#c8102e"/>
<circle cx="316.64" cy="88.13" r="1.3" fill="#c8102e"/>
<circle cx="316.59" cy="91.94" r="1.3" fill="#c8102e"/>
<circle cx="320.50" cy="86.03" r="1.3" fill="#c8102e"/>
<circle cx="318.05" cy="94.05" r="1.3" fill="#c8102e"/>
<circle cx="316.00" cy="86.39" r="1.3" fill="#c8102e"/>
<circle cx="317.55" cy="68.21" r="1.3" fill="#c8102e"/>
<circle cx="317.99" cy="93.69" r="1.3" fill="#c8102e"/>
<circle cx="318.55" cy="80.39" r="1.3" fill="#c8102e"/>
<circle cx="318.64" cy="93.46" r="1.3" fill="#c8102e"/>
<circle cx="320.21" cy="103.69" r="1.3" fill="#c8102e"/>
<circle cx="316.82" cy="86.15" r="1.3" fill="#c8102e"/>
<circle cx="319.08" cy="92.03" r="1.3" fill="#c8102e"/>
<circle cx="318.43" cy="62.30" r="1.3" fill="#c8102e"/>
<circle cx="318.19" cy="104.70" r="1.3" fill="#c8102e"/>
<line x1="318" y1="62.0" x2="318" y2="80.0" stroke="#222" stroke-width="0.8"/>
<line x1="318" y1="94.1" x2="318" y2="105.0" stroke="#222" stroke-width="0.8"/>
<line x1="316.2" y1="62.0" x2="319.8" y2="62.0" stroke="#222" stroke-width="0.8"/>
<line x1="316.2" y1="105.0" x2="319.8" y2="105.0" stroke="#222" stroke-width="0.8"/>
<rect x="312.3" y="80.0" width="11.4" height="14.10" fill="none" stroke="#333" stroke-width="0.75"/>
<line x1="312.3" y1="86.3" x2="323.7" y2="86.3" stroke="#111" stroke-width="0.95"/>
<rect x="326.8" y="99.0" width="11.4" height="11.00" fill="#e6e6e6"/>
<circle cx="333.20" cy="107.68" r="1.3" fill="#c8102e"/>
<circle cx="332.87" cy="99.09" r="1.3" fill="#c8102e"/>
<circle cx="331.89" cy="109.85" r="1.3" fill="#c8102e"/>
<circle cx="334.21" cy="90.64" r="1.3" fill="#c8102e"/>
<circle cx="332.25" cy="92.76" r="1.3" fill="#c8102e"/>
<circle cx="334.58" cy="108.75" r="1.3" fill="#c8102e"/>
<circle cx="332.07" cy="108.40" r="1.3" fill="#c8102e"/>
<circle cx="334.13" cy="103.81" r="1.3" fill="#c8102e"/>
<circle cx="334.68" cy="103.85" r="1.3" fill="#c8102e"/>
<circle cx="334.51" cy="97.47" r="1.3" fill="#c8102e"/>
<circle cx="332.74" cy="119.81" r="1.3" fill="#c8102e"/>
<circle cx="332.40" cy="103.68" r="1.3" fill="#c8102e"/>
<circle cx="334.00" cy="112.24" r="1.3" fill="#c8102e"/>
<circle cx="332.20" cy="99.42" r="1.3" fill="#c8102e"/>
<circle cx="333.41" cy="97.80" r="1.3" fill="#c8102e"/>
<circle cx="332.18" cy="106.36" r="1.3" fill="#c8102e"/>
<circle cx="329.10" cy="95.64" r="1.3" fill="#c8102e"/>
<circle cx="331.98" cy="95.34" r="1.3" fill="#c8102e"/>
<circle cx="329.58" cy="112.25" r="1.3" fill="#c8102e"/>
<circle cx="332.34" cy="108.99" r="1.3" fill="#c8102e"/>
<circle cx="333.79" cy="98.45" r="1.3" fill="#c8102e"/>
<circle cx="331.53" cy="91.25" r="1.3" fill="#c8102e"/>
<circle cx="330.97" cy="90.11" r="1.3" fill="#c8102e"/>
<circle cx="332.58" cy="100.16" r="1.3" fill="#c8102e"/>
<circle cx="331.82" cy="95.61" r="1.3" fill="#c8102e"/>
<circle cx="333.51" cy="113.08" r="1.3" fill="#c8102e"/>
<circle cx="332.51" cy="89.97" r="1.3" fill="#c8102e"/>
<circle cx="329.82" cy="94.92" r="1.3" fill="#c8102e"/>
<circle cx="331.81" cy="117.11" r="1.3" fill="#c8102e"/>
<circle cx="329.57" cy="99.89" r="1.3" fill="#c8102e"/>
<circle cx="329.10" cy="101.74" r="1.3" fill="#c8102e"/>
<circle cx="335.70" cy="106.53" r="1.3" fill="#c8102e"/>
<circle cx="331.49" cy="101.48" r="1.3" fill="#c8102e"/>
<circle cx="332.99" cy="92.27" r="1.3" fill="#c8102e"/>
<circle cx="333.08" cy="94.28" r="1.3" fill="#c8102e"/>
<circle cx="331.51" cy="117.58" r="1.3" fill="#c8102e"/>
<circle cx="332.33" cy="98.98" r="1.3" fill="#c8102e"/>
<circle cx="334.17" cy="97.18" r="1.3" fill="#c8102e"/>
<circle cx="335.30" cy="101.76" r="1.3" fill="#c8102e"/>
<circle cx="331.71" cy="111.92" r="1.3" fill="#c8102e"/>
<circle cx="335.35" cy="107.43" r="1.3" fill="#c8102e"/>
<circle cx="330.78" cy="105.66" r="1.3" fill="#c8102e"/>
<circle cx="334.66" cy="109.34" r="1.3" fill="#c8102e"/>
<circle cx="333.20" cy="103.50" r="1.3" fill="#c8102e"/>
<circle cx="331.79" cy="110.04" r="1.3" fill="#c8102e"/>
<circle cx="331.59" cy="92.30" r="1.3" fill="#c8102e"/>
<circle cx="333.60" cy="117.13" r="1.3" fill="#c8102e"/>
<circle cx="333.64" cy="101.10" r="1.3" fill="#c8102e"/>
<circle cx="332.24" cy="100.07" r="1.3" fill="#c8102e"/>
<circle cx="329.10" cy="99.23" r="1.3" fill="#c8102e"/>
<circle cx="331.94" cy="107.97" r="1.3" fill="#c8102e"/>
<circle cx="334.20" cy="102.23" r="1.3" fill="#c8102e"/>
<circle cx="333.00" cy="96.47" r="1.3" fill="#c8102e"/>
<circle cx="333.31" cy="116.10" r="1.3" fill="#c8102e"/>
<circle cx="333.07" cy="104.53" r="1.3" fill="#c8102e"/>
<circle cx="335.49" cy="120.81" r="1.3" fill="#c8102e"/>
<circle cx="333.09" cy="103.48" r="1.3" fill="#c8102e"/>
<circle cx="333.20" cy="93.89" r="1.3" fill="#c8102e"/>
<circle cx="333.37" cy="101.06" r="1.3" fill="#c8102e"/>
<circle cx="333.06" cy="99.19" r="1.3" fill="#c8102e"/>
<circle cx="334.27" cy="106.10" r="1.3" fill="#c8102e"/>
<circle cx="330.98" cy="102.65" r="1.3" fill="#c8102e"/>
<circle cx="331.15" cy="102.67" r="1.3" fill="#c8102e"/>
<circle cx="332.29" cy="100.98" r="1.3" fill="#c8102e"/>
<circle cx="331.87" cy="92.82" r="1.3" fill="#c8102e"/>
<circle cx="335.90" cy="95.11" r="1.3" fill="#c8102e"/>
<circle cx="330.58" cy="104.67" r="1.3" fill="#c8102e"/>
<circle cx="330.47" cy="97.98" r="1.3" fill="#c8102e"/>
<circle cx="332.51" cy="99.47" r="1.3" fill="#c8102e"/>
<circle cx="333.91" cy="103.39" r="1.3" fill="#c8102e"/>
<circle cx="334.15" cy="118.53" r="1.3" fill="#c8102e"/>
<circle cx="330.19" cy="91.11" r="1.3" fill="#c8102e"/>
<circle cx="331.75" cy="91.59" r="1.3" fill="#c8102e"/>
<circle cx="329.62" cy="104.00" r="1.3" fill="#c8102e"/>
<circle cx="333.90" cy="106.48" r="1.3" fill="#c8102e"/>
<circle cx="332.50" cy="117.14" r="1.3" fill="#c8102e"/>
<circle cx="334.81" cy="112.47" r="1.3" fill="#c8102e"/>
<circle cx="329.54" cy="98.95" r="1.3" fill="#c8102e"/>
<circle cx="333.46" cy="94.54" r="1.3" fill="#c8102e"/>
<circle cx="333.90" cy="108.53" r="1.3" fill="#c8102e"/>
<circle cx="332.14" cy="117.88" r="1.3" fill="#c8102e"/>
<circle cx="330.51" cy="110.32" r="1.3" fill="#c8102e"/>
<circle cx="332.12" cy="103.64" r="1.3" fill="#c8102e"/>
<circle cx="332.37" cy="110.85" r="1.3" fill="#c8102e"/>
<circle cx="334.27" cy="98.48" r="1.3" fill="#c8102e"/>
<circle cx="331.53" cy="100.20" r="1.3" fill="#c8102e"/>
<circle cx="332.48" cy="95.18" r="1.3" fill="#c8102e"/>
<circle cx="334.49" cy="108.89" r="1.3" fill="#c8102e"/>
<circle cx="334.04" cy="94.64" r="1.3" fill="#c8102e"/>
<circle cx="333.23" cy="106.39" r="1.3" fill="#c8102e"/>
<circle cx="332.81" cy="102.09" r="1.3" fill="#c8102e"/>
<circle cx="334.37" cy="90.53" r="1.3" fill="#c8102e"/>
<circle cx="329.10" cy="100.15" r="1.3" fill="#c8102e"/>
<circle cx="333.36" cy="107.72" r="1.3" fill="#c8102e"/>
<circle cx="331.49" cy="115.03" r="1.3" fill="#c8102e"/>
<circle cx="332.10" cy="90.10" r="1.3" fill="#c8102e"/>
<circle cx="333.24" cy="120.70" r="1.3" fill="#c8102e"/>
<circle cx="331.60" cy="78.30" r="1.3" fill="#c8102e"/>
<line x1="332.5" y1="89.8" x2="332.5" y2="99.0" stroke="#222" stroke-width="0.8"/>
<line x1="332.5" y1="110.0" x2="332.5" y2="121.0" stroke="#222" stroke-width="0.8"/>
<line x1="330.7" y1="89.8" x2="334.3" y2="89.8" stroke="#222" stroke-width="0.8"/>
<line x1="330.7" y1="121.0" x2="334.3" y2="121.0" stroke="#222" stroke-width="0.8"/>
<rect x="326.8" y="99.0" width="11.4" height="11.00" fill="none" stroke="#333" stroke-width="0.75"/>
<line x1="326.8" y1="104.6" x2="338.2" y2="104.6" stroke="#111" stroke-width="0.95"/>
<rect x="341.90000000000003" y="122.2" width="11.4" height="6.10" fill="#e6e6e6"/>
<circle cx="347.76" cy="127.70" r="1.3" fill="#c8102e"/>
<circle cx="349.23" cy="122.84" r="1.3" fill="#c8102e"/>
<circle cx="347.82" cy="127.30" r="1.3" fill="#c8102e"/>
<circle cx="347.51" cy="124.10" r="1.3" fill="#c8102e"/>
<circle cx="349.68" cy="131.31" r="1.3" fill="#c8102e"/>
<circle cx="348.84" cy="121.66" r="1.3" fill="#c8102e"/>
<circle cx="347.87" cy="124.11" r="1.3" fill="#c8102e"/>
<circle cx="348.40" cy="127.41" r="1.3" fill="#c8102e"/>
<circle cx="349.97" cy="128.16" r="1.3" fill="#c8102e"/>
<circle cx="348.63" cy="125.06" r="1.3" fill="#c8102e"/>
<circle cx="351.00" cy="122.89" r="1.3" fill="#c8102e"/>
<circle cx="347.72" cy="129.26" r="1.3" fill="#c8102e"/>
<circle cx="348.58" cy="128.39" r="1.3" fill="#c8102e"/>
<circle cx="349.16" cy="122.70" r="1.3" fill="#c8102e"/>
<circle cx="347.11" cy="120.72" r="1.3" fill="#c8102e"/>
<circle cx="345.80" cy="121.58" r="1.3" fill="#c8102e"/>
<circle cx="348.63" cy="131.83" r="1.3" fill="#c8102e"/>
<circle cx="346.84" cy="119.69" r="1.3" fill="#c8102e"/>
<circle cx="348.20" cy="132.40" r="1.3" fill="#c8102e"/>
<circle cx="348.07" cy="119.58" r="1.3" fill="#c8102e"/>
<circle cx="347.76" cy="123.81" r="1.3" fill="#c8102e"/>
<circle cx="349.29" cy="130.74" r="1.3" fill="#c8102e"/>
<circle cx="346.08" cy="132.94" r="1.3" fill="#c8102e"/>
<circle cx="347.17" cy="131.45" r="1.3" fill="#c8102e"/>
<circle cx="348.39" cy="131.55" r="1.3" fill="#c8102e"/>
<circle cx="349.63" cy="128.25" r="1.3" fill="#c8102e"/>
<circle cx="348.01" cy="123.64" r="1.3" fill="#c8102e"/>
<circle cx="347.18" cy="123.59" r="1.3" fill="#c8102e"/>
<circle cx="348.34" cy="115.20" r="1.3" fill="#c8102e"/>
<circle cx="345.52" cy="122.53" r="1.3" fill="#c8102e"/>
<circle cx="347.00" cy="115.30" r="1.3" fill="#c8102e"/>
<circle cx="348.34" cy="132.70" r="1.3" fill="#c8102e"/>
<line x1="347.6" y1="115.0" x2="347.6" y2="122.2" stroke="#222" stroke-width="0.8"/>
<line x1="347.6" y1="128.3" x2="347.6" y2="133.0" stroke="#222" stroke-width="0.8"/>
<line x1="345.8" y1="115.0" x2="349.40000000000003" y2="115.0" stroke="#222" stroke-width="0.8"/>
<line x1="345.8" y1="133.0" x2="349.40000000000003" y2="133.0" stroke="#222" stroke-width="0.8"/>
<rect x="341.90000000000003" y="122.2" width="11.4" height="6.10" fill="none" stroke="#333" stroke-width="0.75"/>
<line x1="341.90000000000003" y1="125.0" x2="353.3" y2="125.0" stroke="#111" stroke-width="0.95"/>
<text x="411.5" y="25.8" font-size="7.3" text-anchor="middle" font-weight="bold" font-style="italic" fill="#111" textLength="18.2" lengthAdjust="spacingAndGlyphs" stroke="#111" stroke-width="0.16">RERE</text>
<text x="411.15" y="34.3" font-size="7.1" text-anchor="middle" font-weight="bold" font-style="normal" fill="#111" textLength="35.6" lengthAdjust="spacingAndGlyphs" stroke="#111" stroke-width="0.16">rs2047094</text>
<text x="389.8" y="50.6" font-size="7.4" fill="#555" stroke="#555" stroke-width="0.16"><tspan font-style="italic">P</tspan> = 3.5×10<tspan font-size="5.6" dy="-3.4">−8</tspan></text>
<path d="M396.6,55.6 L396.6,54.1 L426.1,54.1 L426.1,55.6" fill="none" stroke="#222" stroke-width="0.85"/>
<line x1="385.5" y1="39" x2="385.5" y2="143.1" stroke="#111" stroke-width="0.95"/>
<line x1="385.05" y1="142.7" x2="436.9" y2="142.7" stroke="#111" stroke-width="0.95"/>
<line x1="382.5" y1="56.0" x2="385.5" y2="56.0" stroke="#111" stroke-width="0.85"/>
<text x="379.9" y="58.6" font-size="7.4" text-anchor="end" font-weight="normal" font-style="normal" fill="#333"  stroke="#333" stroke-width="0.16">10</text>
<line x1="382.5" y1="77.0" x2="385.5" y2="77.0" stroke="#111" stroke-width="0.85"/>
<text x="379.9" y="79.6" font-size="7.4" text-anchor="end" font-weight="normal" font-style="normal" fill="#333"  stroke="#333" stroke-width="0.16">5</text>
<line x1="382.5" y1="98.1" x2="385.5" y2="98.1" stroke="#111" stroke-width="0.85"/>
<text x="379.9" y="100.7" font-size="7.4" text-anchor="end" font-weight="normal" font-style="normal" fill="#333"  stroke="#333" stroke-width="0.16">0</text>
<line x1="382.5" y1="119.6" x2="385.5" y2="119.6" stroke="#111" stroke-width="0.85"/>
<text x="379.9" y="122.2" font-size="7.4" text-anchor="end" font-weight="normal" font-style="normal" fill="#333"  stroke="#333" stroke-width="0.16">−5</text>
<line x1="382.5" y1="140.2" x2="385.5" y2="140.2" stroke="#111" stroke-width="0.85"/>
<text x="379.9" y="142.8" font-size="7.4" text-anchor="end" font-weight="normal" font-style="normal" fill="#333"  stroke="#333" stroke-width="0.16">−10</text>
<line x1="396.6" y1="142.7" x2="396.6" y2="145.2" stroke="#111" stroke-width="0.8"/>
<text x="396.6" y="155.1" font-size="7.4" text-anchor="middle" font-weight="normal" font-style="normal" fill="#333"  stroke="#333" stroke-width="0.16">A/A</text>
<line x1="411.4" y1="142.7" x2="411.4" y2="145.2" stroke="#111" stroke-width="0.8"/>
<text x="411.4" y="155.1" font-size="7.4" text-anchor="middle" font-weight="normal" font-style="normal" fill="#333"  stroke="#333" stroke-width="0.16">A/C</text>
<line x1="426.1" y1="142.7" x2="426.1" y2="145.2" stroke="#111" stroke-width="0.8"/>
<text x="426.1" y="155.1" font-size="7.4" text-anchor="middle" font-weight="normal" font-style="normal" fill="#333"  stroke="#333" stroke-width="0.16">C/C</text>
<path d="M385.5,157.4 L436.9,164.6 L385.5,164.6 z" fill="url(#tri)" stroke="#444" stroke-width="0.6"/>
<rect x="390.90000000000003" y="81.6" width="11.4" height="18.70" fill="#e6e6e6"/>
<circle cx="399.41" cy="79.50" r="1.3" fill="#c8102e"/>
<circle cx="397.73" cy="85.82" r="1.3" fill="#c8102e"/>
<circle cx="394.26" cy="88.82" r="1.3" fill="#c8102e"/>
<circle cx="395.27" cy="70.62" r="1.3" fill="#c8102e"/>
<circle cx="396.82" cy="113.84" r="1.3" fill="#c8102e"/>
<circle cx="394.64" cy="78.78" r="1.3" fill="#c8102e"/>
<circle cx="398.85" cy="69.29" r="1.3" fill="#c8102e"/>
<circle cx="397.50" cy="87.97" r="1.3" fill="#c8102e"/>
<circle cx="394.39" cy="70.03" r="1.3" fill="#c8102e"/>
<circle cx="399.51" cy="69.62" r="1.3" fill="#c8102e"/>
<circle cx="397.81" cy="81.88" r="1.3" fill="#c8102e"/>
<circle cx="397.62" cy="100.20" r="1.3" fill="#c8102e"/>
<circle cx="395.84" cy="82.48" r="1.3" fill="#c8102e"/>
<circle cx="395.79" cy="117.75" r="1.3" fill="#c8102e"/>
<circle cx="395.87" cy="99.13" r="1.3" fill="#c8102e"/>
<circle cx="396.58" cy="84.23" r="1.3" fill="#c8102e"/>
<circle cx="396.72" cy="100.49" r="1.3" fill="#c8102e"/>
<circle cx="394.37" cy="113.53" r="1.3" fill="#c8102e"/>
<circle cx="394.10" cy="68.84" r="1.3" fill="#c8102e"/>
<circle cx="393.20" cy="80.82" r="1.3" fill="#c8102e"/>
<circle cx="397.14" cy="117.35" r="1.3" fill="#c8102e"/>
<circle cx="396.59" cy="87.01" r="1.3" fill="#c8102e"/>
<circle cx="398.08" cy="91.24" r="1.3" fill="#c8102e"/>
<circle cx="397.63" cy="114.70" r="1.3" fill="#c8102e"/>
<circle cx="398.90" cy="99.89" r="1.3" fill="#c8102e"/>
<circle cx="396.87" cy="105.00" r="1.3" fill="#c8102e"/>
<circle cx="394.71" cy="84.68" r="1.3" fill="#c8102e"/>
<circle cx="395.02" cy="84.35" r="1.3" fill="#c8102e"/>
<circle cx="398.47" cy="72.51" r="1.3" fill="#c8102e"/>
<circle cx="396.62" cy="79.00" r="1.3" fill="#c8102e"/>
<circle cx="395.54" cy="71.62" r="1.3" fill="#c8102e"/>
<circle cx="395.42" cy="69.55" r="1.3" fill="#c8102e"/>
<circle cx="396.20" cy="120.15" r="1.3" fill="#c8102e"/>
<circle cx="397.70" cy="110.34" r="1.3" fill="#c8102e"/>
<circle cx="396.52" cy="72.82" r="1.3" fill="#c8102e"/>
<circle cx="394.40" cy="73.55" r="1.3" fill="#c8102e"/>
<circle cx="396.62" cy="89.40" r="1.3" fill="#c8102e"/>
<circle cx="394.91" cy="80.83" r="1.3" fill="#c8102e"/>
<circle cx="397.57" cy="97.63" r="1.3" fill="#c8102e"/>
<circle cx="397.78" cy="100.23" r="1.3" fill="#c8102e"/>
<circle cx="394.90" cy="74.96" r="1.3" fill="#c8102e"/>
<circle cx="396.11" cy="106.51" r="1.3" fill="#c8102e"/>
<circle cx="398.34" cy="86.47" r="1.3" fill="#c8102e"/>
<circle cx="396.93" cy="99.88" r="1.3" fill="#c8102e"/>
<circle cx="397.60" cy="81.37" r="1.3" fill="#c8102e"/>
<circle cx="397.97" cy="76.71" r="1.3" fill="#c8102e"/>
<circle cx="395.38" cy="84.62" r="1.3" fill="#c8102e"/>
<circle cx="398.26" cy="87.38" r="1.3" fill="#c8102e"/>
<circle cx="396.52" cy="80.69" r="1.3" fill="#c8102e"/>
<circle cx="394.15" cy="103.88" r="1.3" fill="#c8102e"/>
<circle cx="393.20" cy="73.89" r="1.3" fill="#c8102e"/>
<circle cx="397.73" cy="90.50" r="1.3" fill="#c8102e"/>
<circle cx="394.17" cy="113.33" r="1.3" fill="#c8102e"/>
<circle cx="396.41" cy="70.01" r="1.3" fill="#c8102e"/>
<circle cx="397.28" cy="78.60" r="1.3" fill="#c8102e"/>
<circle cx="393.80" cy="119.37" r="1.3" fill="#c8102e"/>
<circle cx="394.99" cy="86.44" r="1.3" fill="#c8102e"/>
<circle cx="395.57" cy="108.74" r="1.3" fill="#c8102e"/>
<circle cx="396.94" cy="101.71" r="1.3" fill="#c8102e"/>
<circle cx="398.08" cy="116.50" r="1.3" fill="#c8102e"/>
<circle cx="397.76" cy="95.72" r="1.3" fill="#c8102e"/>
<circle cx="396.08" cy="80.02" r="1.3" fill="#c8102e"/>
<circle cx="397.17" cy="79.33" r="1.3" fill="#c8102e"/>
<circle cx="394.95" cy="81.79" r="1.3" fill="#c8102e"/>
<circle cx="395.41" cy="79.30" r="1.3" fill="#c8102e"/>
<circle cx="395.62" cy="67.78" r="1.3" fill="#c8102e"/>
<circle cx="398.47" cy="78.38" r="1.3" fill="#c8102e"/>
<circle cx="397.32" cy="84.06" r="1.3" fill="#c8102e"/>
<circle cx="398.99" cy="93.19" r="1.3" fill="#c8102e"/>
<circle cx="397.73" cy="71.53" r="1.3" fill="#c8102e"/>
<circle cx="397.44" cy="93.26" r="1.3" fill="#c8102e"/>
<circle cx="397.30" cy="96.40" r="1.3" fill="#c8102e"/>
<circle cx="397.05" cy="98.38" r="1.3" fill="#c8102e"/>
<circle cx="396.35" cy="87.93" r="1.3" fill="#c8102e"/>
<circle cx="397.77" cy="117.28" r="1.3" fill="#c8102e"/>
<circle cx="396.30" cy="66.80" r="1.3" fill="#c8102e"/>
<circle cx="396.71" cy="122.00" r="1.3" fill="#c8102e"/>
<line x1="396.6" y1="66.5" x2="396.6" y2="81.6" stroke="#222" stroke-width="0.8"/>
<line x1="396.6" y1="100.3" x2="396.6" y2="122.3" stroke="#222" stroke-width="0.8"/>
<line x1="394.8" y1="66.5" x2="398.40000000000003" y2="66.5" stroke="#222" stroke-width="0.8"/>
<line x1="394.8" y1="122.3" x2="398.40000000000003" y2="122.3" stroke="#222" stroke-width="0.8"/>
<rect x="390.90000000000003" y="81.6" width="11.4" height="18.70" fill="none" stroke="#333" stroke-width="0.75"/>
<line x1="390.90000000000003" y1="91.5" x2="402.3" y2="91.5" stroke="#111" stroke-width="0.95"/>
<rect x="405.7" y="90.7" width="11.4" height="17.90" fill="#e6e6e6"/>
<circle cx="408.98" cy="94.47" r="1.3" fill="#c8102e"/>
<circle cx="412.80" cy="124.72" r="1.3" fill="#c8102e"/>
<circle cx="412.14" cy="94.71" r="1.3" fill="#c8102e"/>
<circle cx="413.54" cy="88.96" r="1.3" fill="#c8102e"/>
<circle cx="412.60" cy="79.77" r="1.3" fill="#c8102e"/>
<circle cx="410.55" cy="111.96" r="1.3" fill="#c8102e"/>
<circle cx="412.55" cy="96.20" r="1.3" fill="#c8102e"/>
<circle cx="410.36" cy="87.35" r="1.3" fill="#c8102e"/>
<circle cx="409.50" cy="80.40" r="1.3" fill="#c8102e"/>
<circle cx="410.76" cy="117.97" r="1.3" fill="#c8102e"/>
<circle cx="410.43" cy="84.23" r="1.3" fill="#c8102e"/>
<circle cx="410.46" cy="99.66" r="1.3" fill="#c8102e"/>
<circle cx="411.05" cy="86.67" r="1.3" fill="#c8102e"/>
<circle cx="413.06" cy="119.14" r="1.3" fill="#c8102e"/>
<circle cx="408.87" cy="85.11" r="1.3" fill="#c8102e"/>
<circle cx="411.55" cy="122.33" r="1.3" fill="#c8102e"/>
<circle cx="413.75" cy="88.72" r="1.3" fill="#c8102e"/>
<circle cx="413.79" cy="123.02" r="1.3" fill="#c8102e"/>
<circle cx="414.42" cy="98.89" r="1.3" fill="#c8102e"/>
<circle cx="412.45" cy="95.55" r="1.3" fill="#c8102e"/>
<circle cx="409.50" cy="117.57" r="1.3" fill="#c8102e"/>
<circle cx="409.61" cy="87.26" r="1.3" fill="#c8102e"/>
<circle cx="411.65" cy="110.05" r="1.3" fill="#c8102e"/>
<circle cx="412.80" cy="113.58" r="1.3" fill="#c8102e"/>
<circle cx="411.80" cy="112.50" r="1.3" fill="#c8102e"/>
<circle cx="412.30" cy="95.97" r="1.3" fill="#c8102e"/>
<circle cx="410.87" cy="100.15" r="1.3" fill="#c8102e"/>
<circle cx="411.88" cy="90.59" r="1.3" fill="#c8102e"/>
<circle cx="411.72" cy="107.69" r="1.3" fill="#c8102e"/>
<circle cx="411.16" cy="101.77" r="1.3" fill="#c8102e"/>
<circle cx="414.00" cy="108.80" r="1.3" fill="#c8102e"/>
<circle cx="412.03" cy="85.50" r="1.3" fill="#c8102e"/>
<circle cx="409.53" cy="103.12" r="1.3" fill="#c8102e"/>
<circle cx="410.79" cy="92.68" r="1.3" fill="#c8102e"/>
<circle cx="410.12" cy="96.69" r="1.3" fill="#c8102e"/>
<circle cx="410.67" cy="105.28" r="1.3" fill="#c8102e"/>
<circle cx="411.12" cy="97.63" r="1.3" fill="#c8102e"/>
<circle cx="411.52" cy="103.83" r="1.3" fill="#c8102e"/>
<circle cx="411.62" cy="99.13" r="1.3" fill="#c8102e"/>
<circle cx="413.77" cy="109.76" r="1.3" fill="#c8102e"/>
<circle cx="412.08" cy="98.03" r="1.3" fill="#c8102e"/>
<circle cx="412.83" cy="85.04" r="1.3" fill="#c8102e"/>
<circle cx="410.84" cy="85.95" r="1.3" fill="#c8102e"/>
<circle cx="411.66" cy="97.46" r="1.3" fill="#c8102e"/>
<circle cx="413.33" cy="99.87" r="1.3" fill="#c8102e"/>
<circle cx="411.90" cy="83.93" r="1.3" fill="#c8102e"/>
<circle cx="411.69" cy="108.00" r="1.3" fill="#c8102e"/>
<circle cx="409.75" cy="82.59" r="1.3" fill="#c8102e"/>
<circle cx="408.93" cy="99.64" r="1.3" fill="#c8102e"/>
<circle cx="413.79" cy="86.27" r="1.3" fill="#c8102e"/>
<circle cx="413.67" cy="114.28" r="1.3" fill="#c8102e"/>
<circle cx="411.34" cy="111.64" r="1.3" fill="#c8102e"/>
<circle cx="413.02" cy="88.58" r="1.3" fill="#c8102e"/>
<circle cx="411.21" cy="121.53" r="1.3" fill="#c8102e"/>
<circle cx="412.65" cy="118.43" r="1.3" fill="#c8102e"/>
<circle cx="413.52" cy="119.52" r="1.3" fill="#c8102e"/>
<circle cx="410.01" cy="83.14" r="1.3" fill="#c8102e"/>
<circle cx="413.30" cy="87.20" r="1.3" fill="#c8102e"/>
<circle cx="411.00" cy="117.01" r="1.3" fill="#c8102e"/>
<circle cx="413.94" cy="86.58" r="1.3" fill="#c8102e"/>
<circle cx="412.24" cy="99.58" r="1.3" fill="#c8102e"/>
<circle cx="410.94" cy="91.15" r="1.3" fill="#c8102e"/>
<circle cx="411.24" cy="99.72" r="1.3" fill="#c8102e"/>
<circle cx="411.75" cy="88.12" r="1.3" fill="#c8102e"/>
<circle cx="413.35" cy="87.30" r="1.3" fill="#c8102e"/>
<circle cx="410.58" cy="116.93" r="1.3" fill="#c8102e"/>
<circle cx="411.55" cy="87.60" r="1.3" fill="#c8102e"/>
<circle cx="410.72" cy="100.62" r="1.3" fill="#c8102e"/>
<circle cx="409.59" cy="104.46" r="1.3" fill="#c8102e"/>
<circle cx="413.59" cy="101.51" r="1.3" fill="#c8102e"/>
<circle cx="411.89" cy="102.41" r="1.3" fill="#c8102e"/>
<circle cx="410.96" cy="124.42" r="1.3" fill="#c8102e"/>
<circle cx="409.43" cy="104.22" r="1.3" fill="#c8102e"/>
<circle cx="412.94" cy="91.22" r="1.3" fill="#c8102e"/>
<circle cx="410.23" cy="124.22" r="1.3" fill="#c8102e"/>
<circle cx="411.82" cy="79.50" r="1.3" fill="#c8102e"/>
<circle cx="411.31" cy="124.70" r="1.3" fill="#c8102e"/>
<circle cx="412.00" cy="62.40" r="1.3" fill="#c8102e"/>
<line x1="411.4" y1="79.2" x2="411.4" y2="90.7" stroke="#222" stroke-width="0.8"/>
<line x1="411.4" y1="108.6" x2="411.4" y2="125.0" stroke="#222" stroke-width="0.8"/>
<line x1="409.59999999999997" y1="79.2" x2="413.2" y2="79.2" stroke="#222" stroke-width="0.8"/>
<line x1="409.59999999999997" y1="125.0" x2="413.2" y2="125.0" stroke="#222" stroke-width="0.8"/>
<rect x="405.7" y="90.7" width="11.4" height="17.90" fill="none" stroke="#333" stroke-width="0.75"/>
<line x1="405.7" y1="99.5" x2="417.09999999999997" y2="99.5" stroke="#111" stroke-width="0.95"/>
<rect x="420.40000000000003" y="98.1" width="11.4" height="20.90" fill="#e6e6e6"/>
<circle cx="425.48" cy="96.19" r="1.3" fill="#c8102e"/>
<circle cx="428.57" cy="118.67" r="1.3" fill="#c8102e"/>
<circle cx="426.87" cy="98.22" r="1.3" fill="#c8102e"/>
<circle cx="427.95" cy="113.28" r="1.3" fill="#c8102e"/>
<circle cx="425.91" cy="114.55" r="1.3" fill="#c8102e"/>
<circle cx="426.47" cy="100.10" r="1.3" fill="#c8102e"/>
<circle cx="426.10" cy="95.43" r="1.3" fill="#c8102e"/>
<circle cx="424.57" cy="112.09" r="1.3" fill="#c8102e"/>
<circle cx="426.79" cy="126.98" r="1.3" fill="#c8102e"/>
<circle cx="426.39" cy="94.94" r="1.3" fill="#c8102e"/>
<circle cx="428.12" cy="91.34" r="1.3" fill="#c8102e"/>
<circle cx="425.69" cy="90.41" r="1.3" fill="#c8102e"/>
<circle cx="426.62" cy="101.53" r="1.3" fill="#c8102e"/>
<circle cx="424.48" cy="97.44" r="1.3" fill="#c8102e"/>
<circle cx="425.16" cy="96.92" r="1.3" fill="#c8102e"/>
<circle cx="425.36" cy="112.49" r="1.3" fill="#c8102e"/>
<circle cx="426.22" cy="129.89" r="1.3" fill="#c8102e"/>
<circle cx="426.47" cy="97.94" r="1.3" fill="#c8102e"/>
<circle cx="426.61" cy="113.23" r="1.3" fill="#c8102e"/>
<circle cx="426.38" cy="125.36" r="1.3" fill="#c8102e"/>
<circle cx="424.71" cy="98.56" r="1.3" fill="#c8102e"/>
<circle cx="425.00" cy="90.87" r="1.3" fill="#c8102e"/>
<circle cx="424.68" cy="101.31" r="1.3" fill="#c8102e"/>
<circle cx="423.01" cy="113.61" r="1.3" fill="#c8102e"/>
<circle cx="427.24" cy="118.15" r="1.3" fill="#c8102e"/>
<circle cx="426.45" cy="98.06" r="1.3" fill="#c8102e"/>
<circle cx="425.86" cy="107.73" r="1.3" fill="#c8102e"/>
<circle cx="426.14" cy="103.09" r="1.3" fill="#c8102e"/>
<circle cx="426.58" cy="120.06" r="1.3" fill="#c8102e"/>
<circle cx="422.94" cy="90.91" r="1.3" fill="#c8102e"/>
<circle cx="425.05" cy="95.23" r="1.3" fill="#c8102e"/>
<circle cx="424.80" cy="96.80" r="1.3" fill="#c8102e"/>
<circle cx="425.05" cy="113.41" r="1.3" fill="#c8102e"/>
<circle cx="426.65" cy="121.82" r="1.3" fill="#c8102e"/>
<circle cx="427.17" cy="99.71" r="1.3" fill="#c8102e"/>
<circle cx="427.98" cy="92.33" r="1.3" fill="#c8102e"/>
<circle cx="424.53" cy="117.21" r="1.3" fill="#c8102e"/>
<circle cx="427.39" cy="90.62" r="1.3" fill="#c8102e"/>
<circle cx="424.18" cy="104.99" r="1.3" fill="#c8102e"/>
<circle cx="425.14" cy="118.57" r="1.3" fill="#c8102e"/>
<circle cx="426.39" cy="94.16" r="1.3" fill="#c8102e"/>
<circle cx="427.33" cy="97.65" r="1.3" fill="#c8102e"/>
<circle cx="426.41" cy="118.98" r="1.3" fill="#c8102e"/>
<circle cx="427.34" cy="116.17" r="1.3" fill="#c8102e"/>
<circle cx="424.28" cy="98.61" r="1.3" fill="#c8102e"/>
<circle cx="423.83" cy="108.88" r="1.3" fill="#c8102e"/>
<circle cx="427.06" cy="107.30" r="1.3" fill="#c8102e"/>
<circle cx="423.82" cy="98.59" r="1.3" fill="#c8102e"/>
<circle cx="423.28" cy="97.25" r="1.3" fill="#c8102e"/>
<circle cx="427.18" cy="125.94" r="1.3" fill="#c8102e"/>
<circle cx="425.68" cy="90.50" r="1.3" fill="#c8102e"/>
<circle cx="426.49" cy="134.40" r="1.3" fill="#c8102e"/>
<line x1="426.1" y1="90.2" x2="426.1" y2="98.1" stroke="#222" stroke-width="0.8"/>
<line x1="426.1" y1="119.0" x2="426.1" y2="134.7" stroke="#222" stroke-width="0.8"/>
<line x1="424.3" y1="90.2" x2="427.90000000000003" y2="90.2" stroke="#222" stroke-width="0.8"/>
<line x1="424.3" y1="134.7" x2="427.90000000000003" y2="134.7" stroke="#222" stroke-width="0.8"/>
<rect x="420.40000000000003" y="98.1" width="11.4" height="20.90" fill="none" stroke="#333" stroke-width="0.75"/>
<line x1="420.40000000000003" y1="106.1" x2="431.8" y2="106.1" stroke="#111" stroke-width="0.95"/>
<text x="487.1" y="25.8" font-size="7.3" text-anchor="middle" font-weight="bold" font-style="italic" fill="#111" textLength="21.3" lengthAdjust="spacingAndGlyphs" stroke="#111" stroke-width="0.16">ITGA9</text>
<text x="487.7" y="34.3" font-size="7.1" text-anchor="middle" font-weight="bold" font-style="normal" fill="#111" textLength="41.3" lengthAdjust="spacingAndGlyphs" stroke="#111" stroke-width="0.16">rs17227369</text>
<text x="463.9" y="50.6" font-size="7.4" fill="#555" stroke="#555" stroke-width="0.16"><tspan font-style="italic">P</tspan> = 2.0×10<tspan font-size="5.6" dy="-3.4">−11</tspan></text>
<path d="M472.9,55.6 L472.9,54.1 L502.0,54.1 L502.0,55.6" fill="none" stroke="#222" stroke-width="0.85"/>
<line x1="461.0" y1="39" x2="461.0" y2="143.1" stroke="#111" stroke-width="0.95"/>
<line x1="460.55" y1="142.7" x2="512.6" y2="142.7" stroke="#111" stroke-width="0.95"/>
<line x1="458.0" y1="45.6" x2="461.0" y2="45.6" stroke="#111" stroke-width="0.85"/>
<text x="455.4" y="48.2" font-size="7.4" text-anchor="end" font-weight="normal" font-style="normal" fill="#333"  stroke="#333" stroke-width="0.16">15</text>
<line x1="458.0" y1="62.4" x2="461.0" y2="62.4" stroke="#111" stroke-width="0.85"/>
<text x="455.4" y="65.0" font-size="7.4" text-anchor="end" font-weight="normal" font-style="normal" fill="#333"  stroke="#333" stroke-width="0.16">10</text>
<line x1="458.0" y1="79.3" x2="461.0" y2="79.3" stroke="#111" stroke-width="0.85"/>
<text x="455.4" y="81.9" font-size="7.4" text-anchor="end" font-weight="normal" font-style="normal" fill="#333"  stroke="#333" stroke-width="0.16">5</text>
<line x1="458.0" y1="96.2" x2="461.0" y2="96.2" stroke="#111" stroke-width="0.85"/>
<text x="455.4" y="98.8" font-size="7.4" text-anchor="end" font-weight="normal" font-style="normal" fill="#333"  stroke="#333" stroke-width="0.16">0</text>
<line x1="458.0" y1="113.0" x2="461.0" y2="113.0" stroke="#111" stroke-width="0.85"/>
<text x="455.4" y="115.6" font-size="7.4" text-anchor="end" font-weight="normal" font-style="normal" fill="#333"  stroke="#333" stroke-width="0.16">−5</text>
<line x1="458.0" y1="129.9" x2="461.0" y2="129.9" stroke="#111" stroke-width="0.85"/>
<text x="455.4" y="132.5" font-size="7.4" text-anchor="end" font-weight="normal" font-style="normal" fill="#333"  stroke="#333" stroke-width="0.16">−10</text>
<line x1="472.9" y1="142.7" x2="472.9" y2="145.2" stroke="#111" stroke-width="0.8"/>
<text x="472.9" y="155.1" font-size="7.4" text-anchor="middle" font-weight="normal" font-style="normal" fill="#333"  stroke="#333" stroke-width="0.16">C/C</text>
<line x1="487.2" y1="142.7" x2="487.2" y2="145.2" stroke="#111" stroke-width="0.8"/>
<text x="487.2" y="155.1" font-size="7.4" text-anchor="middle" font-weight="normal" font-style="normal" fill="#333"  stroke="#333" stroke-width="0.16">C/T</text>
<line x1="502.0" y1="142.7" x2="502.0" y2="145.2" stroke="#111" stroke-width="0.8"/>
<text x="502.0" y="155.1" font-size="7.4" text-anchor="middle" font-weight="normal" font-style="normal" fill="#333"  stroke="#333" stroke-width="0.16">T/T</text>
<path d="M461.0,157.4 L512.6,164.6 L461.0,164.6 z" fill="url(#tri)" stroke="#444" stroke-width="0.6"/>
<rect x="467.2" y="81.0" width="11.4" height="18.80" fill="#e6e6e6"/>
<circle cx="473.00" cy="115.02" r="1.3" fill="#c8102e"/>
<circle cx="471.56" cy="99.68" r="1.3" fill="#c8102e"/>
<circle cx="475.45" cy="84.42" r="1.3" fill="#c8102e"/>
<circle cx="474.55" cy="80.35" r="1.3" fill="#c8102e"/>
<circle cx="471.82" cy="97.99" r="1.3" fill="#c8102e"/>
<circle cx="474.46" cy="97.12" r="1.3" fill="#c8102e"/>
<circle cx="472.69" cy="105.58" r="1.3" fill="#c8102e"/>
<circle cx="473.84" cy="98.14" r="1.3" fill="#c8102e"/>
<circle cx="471.73" cy="99.00" r="1.3" fill="#c8102e"/>
<circle cx="472.56" cy="94.12" r="1.3" fill="#c8102e"/>
<circle cx="473.80" cy="95.77" r="1.3" fill="#c8102e"/>
<circle cx="473.56" cy="69.71" r="1.3" fill="#c8102e"/>
<circle cx="472.48" cy="65.53" r="1.3" fill="#c8102e"/>
<circle cx="474.06" cy="71.81" r="1.3" fill="#c8102e"/>
<circle cx="472.34" cy="74.22" r="1.3" fill="#c8102e"/>
<circle cx="474.98" cy="65.70" r="1.3" fill="#c8102e"/>
<circle cx="473.46" cy="96.13" r="1.3" fill="#c8102e"/>
<circle cx="472.86" cy="98.13" r="1.3" fill="#c8102e"/>
<circle cx="472.39" cy="94.76" r="1.3" fill="#c8102e"/>
<circle cx="473.97" cy="85.94" r="1.3" fill="#c8102e"/>
<circle cx="470.54" cy="109.99" r="1.3" fill="#c8102e"/>
<circle cx="474.99" cy="68.81" r="1.3" fill="#c8102e"/>
<circle cx="470.61" cy="114.98" r="1.3" fill="#c8102e"/>
<circle cx="473.09" cy="71.84" r="1.3" fill="#c8102e"/>
<circle cx="473.56" cy="66.21" r="1.3" fill="#c8102e"/>
<circle cx="473.65" cy="106.23" r="1.3" fill="#c8102e"/>
<circle cx="471.06" cy="104.42" r="1.3" fill="#c8102e"/>
<circle cx="472.75" cy="96.06" r="1.3" fill="#c8102e"/>
<circle cx="473.52" cy="71.18" r="1.3" fill="#c8102e"/>
<circle cx="473.24" cy="100.05" r="1.3" fill="#c8102e"/>
<circle cx="474.08" cy="88.58" r="1.3" fill="#c8102e"/>
<circle cx="472.85" cy="64.96" r="1.3" fill="#c8102e"/>
<circle cx="474.04" cy="98.72" r="1.3" fill="#c8102e"/>
<circle cx="471.35" cy="86.15" r="1.3" fill="#c8102e"/>
<circle cx="476.16" cy="92.02" r="1.3" fill="#c8102e"/>
<circle cx="472.64" cy="106.53" r="1.3" fill="#c8102e"/>
<circle cx="472.66" cy="88.10" r="1.3" fill="#c8102e"/>
<circle cx="473.09" cy="89.13" r="1.3" fill="#c8102e"/>
<circle cx="471.62" cy="98.37" r="1.3" fill="#c8102e"/>
<circle cx="473.48" cy="93.10" r="1.3" fill="#c8102e"/>
<circle cx="475.63" cy="70.68" r="1.3" fill="#c8102e"/>
<circle cx="472.93" cy="104.02" r="1.3" fill="#c8102e"/>
<circle cx="472.96" cy="78.09" r="1.3" fill="#c8102e"/>
<circle cx="473.03" cy="100.28" r="1.3" fill="#c8102e"/>
<circle cx="472.88" cy="91.50" r="1.3" fill="#c8102e"/>
<circle cx="473.16" cy="91.53" r="1.3" fill="#c8102e"/>
<circle cx="472.04" cy="91.66" r="1.3" fill="#c8102e"/>
<circle cx="473.44" cy="85.24" r="1.3" fill="#c8102e"/>
<circle cx="471.95" cy="114.94" r="1.3" fill="#c8102e"/>
<circle cx="473.38" cy="82.47" r="1.3" fill="#c8102e"/>
<circle cx="475.02" cy="91.83" r="1.3" fill="#c8102e"/>
<circle cx="472.52" cy="72.04" r="1.3" fill="#c8102e"/>
<circle cx="472.47" cy="101.77" r="1.3" fill="#c8102e"/>
<circle cx="473.35" cy="98.13" r="1.3" fill="#c8102e"/>
<circle cx="470.98" cy="85.60" r="1.3" fill="#c8102e"/>
<circle cx="470.58" cy="87.60" r="1.3" fill="#c8102e"/>
<circle cx="474.71" cy="70.33" r="1.3" fill="#c8102e"/>
<circle cx="473.84" cy="109.74" r="1.3" fill="#c8102e"/>
<circle cx="473.05" cy="81.58" r="1.3" fill="#c8102e"/>
<circle cx="471.53" cy="110.90" r="1.3" fill="#c8102e"/>
<circle cx="472.89" cy="109.34" r="1.3" fill="#c8102e"/>
<circle cx="471.23" cy="80.02" r="1.3" fill="#c8102e"/>
<circle cx="473.32" cy="99.94" r="1.3" fill="#c8102e"/>
<circle cx="472.11" cy="99.88" r="1.3" fill="#c8102e"/>
<circle cx="471.87" cy="84.34" r="1.3" fill="#c8102e"/>
<circle cx="474.04" cy="75.11" r="1.3" fill="#c8102e"/>
<circle cx="471.18" cy="99.55" r="1.3" fill="#c8102e"/>
<circle cx="470.66" cy="76.03" r="1.3" fill="#c8102e"/>
<circle cx="473.81" cy="94.40" r="1.3" fill="#c8102e"/>
<circle cx="470.07" cy="73.16" r="1.3" fill="#c8102e"/>
<circle cx="473.59" cy="80.28" r="1.3" fill="#c8102e"/>
<circle cx="472.21" cy="77.43" r="1.3" fill="#c8102e"/>
<circle cx="474.97" cy="105.90" r="1.3" fill="#c8102e"/>
<circle cx="473.49" cy="75.06" r="1.3" fill="#c8102e"/>
<circle cx="473.78" cy="84.34" r="1.3" fill="#c8102e"/>
<circle cx="473.56" cy="92.60" r="1.3" fill="#c8102e"/>
<circle cx="473.96" cy="77.29" r="1.3" fill="#c8102e"/>
<circle cx="472.81" cy="118.05" r="1.3" fill="#c8102e"/>
<circle cx="472.26" cy="116.76" r="1.3" fill="#c8102e"/>
<circle cx="469.90" cy="71.45" r="1.3" fill="#c8102e"/>
<circle cx="475.57" cy="102.23" r="1.3" fill="#c8102e"/>
<circle cx="472.05" cy="99.27" r="1.3" fill="#c8102e"/>
<circle cx="473.27" cy="96.26" r="1.3" fill="#c8102e"/>
<circle cx="473.28" cy="71.82" r="1.3" fill="#c8102e"/>
<circle cx="474.24" cy="66.16" r="1.3" fill="#c8102e"/>
<circle cx="473.45" cy="87.50" r="1.3" fill="#c8102e"/>
<circle cx="470.82" cy="91.92" r="1.3" fill="#c8102e"/>
<circle cx="472.15" cy="96.08" r="1.3" fill="#c8102e"/>
<circle cx="473.08" cy="95.18" r="1.3" fill="#c8102e"/>
<circle cx="472.73" cy="87.75" r="1.3" fill="#c8102e"/>
<circle cx="469.85" cy="88.85" r="1.3" fill="#c8102e"/>
<circle cx="472.89" cy="94.24" r="1.3" fill="#c8102e"/>
<circle cx="471.44" cy="79.71" r="1.3" fill="#c8102e"/>
<circle cx="474.66" cy="98.92" r="1.3" fill="#c8102e"/>
<circle cx="471.25" cy="98.22" r="1.3" fill="#c8102e"/>
<circle cx="472.04" cy="106.62" r="1.3" fill="#c8102e"/>
<circle cx="471.09" cy="89.89" r="1.3" fill="#c8102e"/>
<circle cx="472.46" cy="83.75" r="1.3" fill="#c8102e"/>
<circle cx="472.44" cy="88.39" r="1.3" fill="#c8102e"/>
<circle cx="472.45" cy="101.42" r="1.3" fill="#c8102e"/>
<circle cx="472.50" cy="62.70" r="1.3" fill="#c8102e"/>
<circle cx="472.78" cy="120.30" r="1.3" fill="#c8102e"/>
<circle cx="473.90" cy="129.50" r="1.3" fill="#c8102e"/>
<line x1="472.9" y1="62.4" x2="472.9" y2="81.0" stroke="#222" stroke-width="0.8"/>
<line x1="472.9" y1="99.8" x2="472.9" y2="120.6" stroke="#222" stroke-width="0.8"/>
<line x1="471.09999999999997" y1="62.4" x2="474.7" y2="62.4" stroke="#222" stroke-width="0.8"/>
<line x1="471.09999999999997" y1="120.6" x2="474.7" y2="120.6" stroke="#222" stroke-width="0.8"/>
<rect x="467.2" y="81.0" width="11.4" height="18.80" fill="none" stroke="#333" stroke-width="0.75"/>
<line x1="467.2" y1="91.9" x2="478.59999999999997" y2="91.9" stroke="#111" stroke-width="0.95"/>
<rect x="481.5" y="100.4" width="11.4" height="17.20" fill="#e6e6e6"/>
<circle cx="485.28" cy="107.21" r="1.3" fill="#c8102e"/>
<circle cx="485.43" cy="113.03" r="1.3" fill="#c8102e"/>
<circle cx="488.33" cy="128.43" r="1.3" fill="#c8102e"/>
<circle cx="485.83" cy="97.86" r="1.3" fill="#c8102e"/>
<circle cx="485.19" cy="105.01" r="1.3" fill="#c8102e"/>
<circle cx="487.59" cy="108.36" r="1.3" fill="#c8102e"/>
<circle cx="487.14" cy="110.24" r="1.3" fill="#c8102e"/>
<circle cx="487.86" cy="96.98" r="1.3" fill="#c8102e"/>
<circle cx="483.94" cy="109.38" r="1.3" fill="#c8102e"/>
<circle cx="485.64" cy="94.47" r="1.3" fill="#c8102e"/>
<circle cx="486.41" cy="116.44" r="1.3" fill="#c8102e"/>
<circle cx="485.51" cy="109.13" r="1.3" fill="#c8102e"/>
<circle cx="485.18" cy="109.47" r="1.3" fill="#c8102e"/>
<circle cx="488.11" cy="105.72" r="1.3" fill="#c8102e"/>
<circle cx="486.89" cy="115.26" r="1.3" fill="#c8102e"/>
<circle cx="487.26" cy="105.13" r="1.3" fill="#c8102e"/>
<circle cx="486.49" cy="132.64" r="1.3" fill="#c8102e"/>
<circle cx="488.25" cy="103.90" r="1.3" fill="#c8102e"/>
<circle cx="487.59" cy="105.37" r="1.3" fill="#c8102e"/>
<circle cx="485.92" cy="90.00" r="1.3" fill="#c8102e"/>
<circle cx="487.92" cy="115.76" r="1.3" fill="#c8102e"/>
<circle cx="487.11" cy="103.79" r="1.3" fill="#c8102e"/>
<circle cx="488.19" cy="117.30" r="1.3" fill="#c8102e"/>
<circle cx="486.23" cy="129.16" r="1.3" fill="#c8102e"/>
<circle cx="487.03" cy="119.86" r="1.3" fill="#c8102e"/>
<circle cx="487.37" cy="105.11" r="1.3" fill="#c8102e"/>
<circle cx="487.92" cy="118.59" r="1.3" fill="#c8102e"/>
<circle cx="486.15" cy="120.31" r="1.3" fill="#c8102e"/>
<circle cx="486.02" cy="110.91" r="1.3" fill="#c8102e"/>
<circle cx="488.47" cy="99.51" r="1.3" fill="#c8102e"/>
<circle cx="486.91" cy="113.64" r="1.3" fill="#c8102e"/>
<circle cx="487.84" cy="120.85" r="1.3" fill="#c8102e"/>
<circle cx="485.76" cy="101.87" r="1.3" fill="#c8102e"/>
<circle cx="489.07" cy="110.42" r="1.3" fill="#c8102e"/>
<circle cx="489.08" cy="103.88" r="1.3" fill="#c8102e"/>
<circle cx="487.05" cy="122.83" r="1.3" fill="#c8102e"/>
<circle cx="488.55" cy="100.52" r="1.3" fill="#c8102e"/>
<circle cx="487.24" cy="106.25" r="1.3" fill="#c8102e"/>
<circle cx="487.29" cy="116.60" r="1.3" fill="#c8102e"/>
<circle cx="487.24" cy="101.44" r="1.3" fill="#c8102e"/>
<circle cx="488.39" cy="108.02" r="1.3" fill="#c8102e"/>
<circle cx="485.86" cy="106.33" r="1.3" fill="#c8102e"/>
<circle cx="485.64" cy="104.13" r="1.3" fill="#c8102e"/>
<circle cx="487.49" cy="128.32" r="1.3" fill="#c8102e"/>
<circle cx="486.82" cy="121.39" r="1.3" fill="#c8102e"/>
<circle cx="487.36" cy="126.63" r="1.3" fill="#c8102e"/>
<circle cx="486.45" cy="121.60" r="1.3" fill="#c8102e"/>
<circle cx="487.41" cy="113.44" r="1.3" fill="#c8102e"/>
<circle cx="487.22" cy="130.07" r="1.3" fill="#c8102e"/>
<circle cx="487.20" cy="114.25" r="1.3" fill="#c8102e"/>
<circle cx="487.85" cy="96.24" r="1.3" fill="#c8102e"/>
<circle cx="487.41" cy="99.79" r="1.3" fill="#c8102e"/>
<circle cx="485.93" cy="96.65" r="1.3" fill="#c8102e"/>
<circle cx="487.42" cy="126.50" r="1.3" fill="#c8102e"/>
<circle cx="486.38" cy="125.58" r="1.3" fill="#c8102e"/>
<circle cx="487.61" cy="112.56" r="1.3" fill="#c8102e"/>
<circle cx="485.16" cy="125.77" r="1.3" fill="#c8102e"/>
<circle cx="487.69" cy="119.15" r="1.3" fill="#c8102e"/>
<circle cx="486.41" cy="115.56" r="1.3" fill="#c8102e"/>
<circle cx="487.12" cy="109.80" r="1.3" fill="#c8102e"/>
<circle cx="485.70" cy="124.98" r="1.3" fill="#c8102e"/>
<circle cx="487.11" cy="110.66" r="1.3" fill="#c8102e"/>
<circle cx="488.22" cy="96.10" r="1.3" fill="#c8102e"/>
<circle cx="488.67" cy="108.47" r="1.3" fill="#c8102e"/>
<circle cx="487.76" cy="96.31" r="1.3" fill="#c8102e"/>
<circle cx="487.19" cy="89.20" r="1.3" fill="#c8102e"/>
<circle cx="487.20" cy="133.60" r="1.3" fill="#c8102e"/>
<circle cx="489.30" cy="68.00" r="1.3" fill="#c8102e"/>
<line x1="487.2" y1="88.9" x2="487.2" y2="100.4" stroke="#222" stroke-width="0.8"/>
<line x1="487.2" y1="117.6" x2="487.2" y2="133.9" stroke="#222" stroke-width="0.8"/>
<line x1="485.4" y1="88.9" x2="489.0" y2="88.9" stroke="#222" stroke-width="0.8"/>
<line x1="485.4" y1="133.9" x2="489.0" y2="133.9" stroke="#222" stroke-width="0.8"/>
<rect x="481.5" y="100.4" width="11.4" height="17.20" fill="none" stroke="#333" stroke-width="0.75"/>
<line x1="481.5" y1="108.7" x2="492.9" y2="108.7" stroke="#111" stroke-width="0.95"/>
<rect x="496.3" y="110.3" width="11.4" height="10.10" fill="#e6e6e6"/>
<circle cx="502.00" cy="110.70" r="1.3" fill="#c8102e"/>
<circle cx="500.60" cy="120.60" r="1.3" fill="#c8102e"/>
<rect x="496.3" y="110.3" width="11.4" height="10.10" fill="none" stroke="#333" stroke-width="0.75"/>
<line x1="496.3" y1="115.2" x2="507.7" y2="115.2" stroke="#111" stroke-width="0.95"/>
<text transform="translate(206.6,91.2) rotate(-90)" font-size="7.1" text-anchor="middle" fill="#555" textLength="89" lengthAdjust="spacingAndGlyphs" stroke="#555" stroke-width="0.16">Expression (residual FPKM)</text>
<text x="203.0" y="164.6" font-size="7.3" fill="#333" stroke="#333" stroke-width="0.16">CD34<tspan font-size="4.8" dx="0.6" dy="-3.4">+</tspan></text>
<text x="6.6" y="185.9" font-size="11" text-anchor="start" font-weight="bold" font-style="normal" fill="#111"  stroke="#111" stroke-width="0.16">C</text>
<rect x="31.40" y="257.20" width="6.93" height="6.90" fill="#f01e28"/>
<rect x="38.33" y="257.20" width="6.93" height="6.90" fill="#f01e28"/>
<rect x="45.26" y="257.20" width="6.93" height="6.90" fill="#f01e28"/>
<rect x="52.19" y="257.20" width="6.93" height="6.90" fill="#f01e28"/>
<rect x="59.12" y="257.20" width="6.93" height="6.90" fill="#f01e28"/>
<rect x="66.05" y="257.20" width="6.93" height="6.90" fill="#ee6a6a"/>
<rect x="72.98" y="257.20" width="6.93" height="6.90" fill="#ee7575"/>
<rect x="79.91" y="257.20" width="6.93" height="6.90" fill="#ee8080"/>
<rect x="86.84" y="257.20" width="6.93" height="6.90" fill="#ee6a6a"/>
<rect x="93.77" y="257.20" width="6.93" height="6.90" fill="#ee6565"/>
<rect x="100.70" y="257.20" width="6.93" height="6.90" fill="#f01e28"/>
<rect x="107.63" y="257.20" width="6.93" height="6.90" fill="#88a6e0"/>
<rect x="114.56" y="257.20" width="6.93" height="6.90" fill="#90ade2"/>
<rect x="121.49" y="257.20" width="6.93" height="6.90" fill="#88a6e0"/>
<rect x="128.42" y="257.20" width="6.93" height="6.90" fill="#98b4e4"/>
<rect x="135.35" y="257.20" width="6.93" height="6.90" fill="#f09898"/>
<rect x="142.28" y="257.20" width="6.93" height="6.90" fill="#4872ca"/>
<rect x="149.21" y="257.20" width="6.93" height="6.90" fill="#4872ca"/>
<rect x="156.14" y="257.20" width="6.93" height="6.90" fill="#4872ca"/>
<rect x="163.07" y="257.20" width="6.93" height="6.90" fill="#4872ca"/>
<rect x="170.00" y="257.20" width="6.93" height="6.90" fill="#4872ca"/>
<rect x="176.93" y="257.20" width="6.93" height="6.90" fill="#4872ca"/>
<rect x="183.86" y="257.20" width="6.93" height="6.90" fill="#4872ca"/>
<rect x="190.79" y="257.20" width="6.93" height="6.90" fill="#5179cb"/>
<rect x="31.40" y="264.10" width="6.93" height="6.90" fill="#f01e28"/>
<rect x="38.33" y="264.10" width="6.93" height="6.90" fill="#f01e28"/>
<rect x="45.26" y="264.10" width="6.93" height="6.90" fill="#f01e28"/>
<rect x="52.19" y="264.10" width="6.93" height="6.90" fill="#f01e28"/>
<rect x="59.12" y="264.10" width="6.93" height="6.90" fill="#f01e28"/>
<rect x="66.05" y="264.10" width="6.93" height="6.90" fill="#ef2a32"/>
<rect x="72.98" y="264.10" width="6.93" height="6.90" fill="#5a80cc"/>
<rect x="79.91" y="264.10" width="6.93" height="6.90" fill="#90ade2"/>
<rect x="86.84" y="264.10" width="6.93" height="6.90" fill="#f2c4c4"/>
<rect x="93.77" y="264.10" width="6.93" height="6.90" fill="#f0a0a0"/>
<rect x="100.70" y="264.10" width="6.93" height="6.90" fill="#f0a0a0"/>
<rect x="107.63" y="264.10" width="6.93" height="6.90" fill="#f2c8c8"/>
<rect x="114.56" y="264.10" width="6.93" height="6.90" fill="#ececec"/>
<rect x="121.49" y="264.10" width="6.93" height="6.90" fill="#e3e7ed"/>
<rect x="128.42" y="264.10" width="6.93" height="6.90" fill="#f2c4c4"/>
<rect x="135.35" y="264.10" width="6.93" height="6.90" fill="#4872ca"/>
<rect x="142.28" y="264.10" width="6.93" height="6.90" fill="#3c68c4"/>
<rect x="149.21" y="264.10" width="6.93" height="6.90" fill="#3c68c4"/>
<rect x="156.14" y="264.10" width="6.93" height="6.90" fill="#3c68c4"/>
<rect x="163.07" y="264.10" width="6.93" height="6.90" fill="#3c68c4"/>
<rect x="170.00" y="264.10" width="6.93" height="6.90" fill="#3c68c4"/>
<rect x="176.93" y="264.10" width="6.93" height="6.90" fill="#3c68c4"/>
<rect x="183.86" y="264.10" width="6.93" height="6.90" fill="#3c68c4"/>
<rect x="190.79" y="264.10" width="6.93" height="6.90" fill="#3c68c4"/>
<rect x="31.40" y="271.00" width="6.93" height="6.90" fill="#ee7575"/>
<rect x="38.33" y="271.00" width="6.93" height="6.90" fill="#f09898"/>
<rect x="45.26" y="271.00" width="6.93" height="6.90" fill="#f01e28"/>
<rect x="52.19" y="271.00" width="6.93" height="6.90" fill="#f01e28"/>
<rect x="59.12" y="271.00" width="6.93" height="6.90" fill="#f01e28"/>
<rect x="66.05" y="271.00" width="6.93" height="6.90" fill="#f1baba"/>
<rect x="72.98" y="271.00" width="6.93" height="6.90" fill="#f01e28"/>
<rect x="79.91" y="271.00" width="6.93" height="6.90" fill="#f01e28"/>
<rect x="86.84" y="271.00" width="6.93" height="6.90" fill="#f01e28"/>
<rect x="93.77" y="271.00" width="6.93" height="6.90" fill="#f01e28"/>
<rect x="100.70" y="271.00" width="6.93" height="6.90" fill="#90ade2"/>
<rect x="107.63" y="271.00" width="6.93" height="6.90" fill="#5a80cc"/>
<rect x="114.56" y="271.00" width="6.93" height="6.90" fill="#5a80cc"/>
<rect x="121.49" y="271.00" width="6.93" height="6.90" fill="#98b4e4"/>
<rect x="128.42" y="271.00" width="6.93" height="6.90" fill="#b0c6ea"/>
<rect x="135.35" y="271.00" width="6.93" height="6.90" fill="#f01e28"/>
<rect x="142.28" y="271.00" width="6.93" height="6.90" fill="#f2c4c4"/>
<rect x="149.21" y="271.00" width="6.93" height="6.90" fill="#3c68c4"/>
<rect x="156.14" y="271.00" width="6.93" height="6.90" fill="#3c68c4"/>
<rect x="163.07" y="271.00" width="6.93" height="6.90" fill="#3c68c4"/>
<rect x="170.00" y="271.00" width="6.93" height="6.90" fill="#3c68c4"/>
<rect x="176.93" y="271.00" width="6.93" height="6.90" fill="#3c68c4"/>
<rect x="183.86" y="271.00" width="6.93" height="6.90" fill="#98b4e4"/>
<rect x="190.79" y="271.00" width="6.93" height="6.90" fill="#b0c6ea"/>
<rect x="31.40" y="277.90" width="6.93" height="6.90" fill="#f1baba"/>
<rect x="38.33" y="277.90" width="6.93" height="6.90" fill="#f2c4c4"/>
<rect x="45.26" y="277.90" width="6.93" height="6.90" fill="#ececec"/>
<rect x="52.19" y="277.90" width="6.93" height="6.90" fill="#f2c4c4"/>
<rect x="59.12" y="277.90" width="6.93" height="6.90" fill="#f2dada"/>
<rect x="66.05" y="277.90" width="6.93" height="6.90" fill="#f2c4c4"/>
<rect x="72.98" y="277.90" width="6.93" height="6.90" fill="#f2c4c4"/>
<rect x="79.91" y="277.90" width="6.93" height="6.90" fill="#d9e1ef"/>
<rect x="86.84" y="277.90" width="6.93" height="6.90" fill="#bbcdec"/>
<rect x="93.77" y="277.90" width="6.93" height="6.90" fill="#e8eaed"/>
<rect x="100.70" y="277.90" width="6.93" height="6.90" fill="#b0c6ea"/>
<rect x="107.63" y="277.90" width="6.93" height="6.90" fill="#f2d3d3"/>
<rect x="114.56" y="277.90" width="6.93" height="6.90" fill="#ececec"/>
<rect x="121.49" y="277.90" width="6.93" height="6.90" fill="#f2cbcb"/>
<rect x="128.42" y="277.90" width="6.93" height="6.90" fill="#f2d7d7"/>
<rect x="135.35" y="277.90" width="6.93" height="6.90" fill="#d9e1ef"/>
<rect x="142.28" y="277.90" width="6.93" height="6.90" fill="#6c8fd4"/>
<rect x="149.21" y="277.90" width="6.93" height="6.90" fill="#98b4e4"/>
<rect x="156.14" y="277.90" width="6.93" height="6.90" fill="#9db8e5"/>
<rect x="163.07" y="277.90" width="6.93" height="6.90" fill="#98b4e4"/>
<rect x="170.00" y="277.90" width="6.93" height="6.90" fill="#ececec"/>
<rect x="176.93" y="277.90" width="6.93" height="6.90" fill="#b0c6ea"/>
<rect x="183.86" y="277.90" width="6.93" height="6.90" fill="#98b4e4"/>
<rect x="190.79" y="277.90" width="6.93" height="6.90" fill="#90ade2"/>
<rect x="31.40" y="284.80" width="6.93" height="6.90" fill="#f09898"/>
<rect x="38.33" y="284.80" width="6.93" height="6.90" fill="#f09898"/>
<rect x="45.26" y="284.80" width="6.93" height="6.90" fill="#ee8080"/>
<rect x="52.19" y="284.80" width="6.93" height="6.90" fill="#ee7575"/>
<rect x="59.12" y="284.80" width="6.93" height="6.90" fill="#f1dede"/>
<rect x="66.05" y="284.80" width="6.93" height="6.90" fill="#f0b0b0"/>
<rect x="72.98" y="284.80" width="6.93" height="6.90" fill="#f0abab"/>
<rect x="79.91" y="284.80" width="6.93" height="6.90" fill="#f2dada"/>
<rect x="86.84" y="284.80" width="6.93" height="6.90" fill="#f2c4c4"/>
<rect x="93.77" y="284.80" width="6.93" height="6.90" fill="#ee8080"/>
<rect x="100.70" y="284.80" width="6.93" height="6.90" fill="#ececec"/>
<rect x="107.63" y="284.80" width="6.93" height="6.90" fill="#f2cbcb"/>
<rect x="114.56" y="284.80" width="6.93" height="6.90" fill="#b0c6ea"/>
<rect x="121.49" y="284.80" width="6.93" height="6.90" fill="#f2cbcb"/>
<rect x="128.42" y="284.80" width="6.93" height="6.90" fill="#d0dcf0"/>
<rect x="135.35" y="284.80" width="6.93" height="6.90" fill="#f2c4c4"/>
<rect x="142.28" y="284.80" width="6.93" height="6.90" fill="#90ade2"/>
<rect x="149.21" y="284.80" width="6.93" height="6.90" fill="#88a6e0"/>
<rect x="156.14" y="284.80" width="6.93" height="6.90" fill="#9db8e5"/>
<rect x="163.07" y="284.80" width="6.93" height="6.90" fill="#98b4e4"/>
<rect x="170.00" y="284.80" width="6.93" height="6.90" fill="#6388d0"/>
<rect x="176.93" y="284.80" width="6.93" height="6.90" fill="#b0c6ea"/>
<rect x="183.86" y="284.80" width="6.93" height="6.90" fill="#9db8e5"/>
<rect x="190.79" y="284.80" width="6.93" height="6.90" fill="#98b4e4"/>
<rect x="31.40" y="291.70" width="6.93" height="6.90" fill="#5a80cc"/>
<rect x="38.33" y="291.70" width="6.93" height="6.90" fill="#5a80cc"/>
<rect x="45.26" y="291.70" width="6.93" height="6.90" fill="#b0c6ea"/>
<rect x="52.19" y="291.70" width="6.93" height="6.90" fill="#98b4e4"/>
<rect x="59.12" y="291.70" width="6.93" height="6.90" fill="#f0b0b0"/>
<rect x="66.05" y="291.70" width="6.93" height="6.90" fill="#f1baba"/>
<rect x="72.98" y="291.70" width="6.93" height="6.90" fill="#f2c4c4"/>
<rect x="79.91" y="291.70" width="6.93" height="6.90" fill="#b0c6ea"/>
<rect x="86.84" y="291.70" width="6.93" height="6.90" fill="#b0c6ea"/>
<rect x="93.77" y="291.70" width="6.93" height="6.90" fill="#f2c8c8"/>
<rect x="100.70" y="291.70" width="6.93" height="6.90" fill="#4872ca"/>
<rect x="107.63" y="291.70" width="6.93" height="6.90" fill="#ef2a32"/>
<rect x="114.56" y="291.70" width="6.93" height="6.90" fill="#ef8c8c"/>
<rect x="121.49" y="291.70" width="6.93" height="6.90" fill="#d9e1ef"/>
<rect x="128.42" y="291.70" width="6.93" height="6.90" fill="#f2d7d7"/>
<rect x="135.35" y="291.70" width="6.93" height="6.90" fill="#b0c6ea"/>
<rect x="142.28" y="291.70" width="6.93" height="6.90" fill="#b0c6ea"/>
<rect x="149.21" y="291.70" width="6.93" height="6.90" fill="#d0dcf0"/>
<rect x="156.14" y="291.70" width="6.93" height="6.90" fill="#ececec"/>
<rect x="163.07" y="291.70" width="6.93" height="6.90" fill="#ececec"/>
<rect x="170.00" y="291.70" width="6.93" height="6.90" fill="#f09898"/>
<rect x="176.93" y="291.70" width="6.93" height="6.90" fill="#f2c4c4"/>
<rect x="183.86" y="291.70" width="6.93" height="6.90" fill="#f0b0b0"/>
<rect x="190.79" y="291.70" width="6.93" height="6.90" fill="#f1baba"/>
<line x1="38.33" y1="257.2" x2="38.33" y2="298.60" stroke="#000" stroke-width="0.8" stroke-opacity="0.55"/>
<line x1="45.26" y1="257.2" x2="45.26" y2="298.60" stroke="#000" stroke-width="0.8" stroke-opacity="0.55"/>
<line x1="52.19" y1="257.2" x2="52.19" y2="298.60" stroke="#000" stroke-width="0.8" stroke-opacity="0.55"/>
<line x1="59.12" y1="257.2" x2="59.12" y2="298.60" stroke="#000" stroke-width="0.8" stroke-opacity="0.55"/>
<line x1="66.05" y1="257.2" x2="66.05" y2="298.60" stroke="#000" stroke-width="0.8" stroke-opacity="0.55"/>
<line x1="72.98" y1="257.2" x2="72.98" y2="298.60" stroke="#000" stroke-width="0.8" stroke-opacity="0.55"/>
<line x1="79.91" y1="257.2" x2="79.91" y2="298.60" stroke="#000" stroke-width="0.8" stroke-opacity="0.55"/>
<line x1="86.84" y1="257.2" x2="86.84" y2="298.60" stroke="#000" stroke-width="0.8" stroke-opacity="0.55"/>
<line x1="93.77" y1="257.2" x2="93.77" y2="298.60" stroke="#000" stroke-width="0.8" stroke-opacity="0.55"/>
<line x1="100.70" y1="257.2" x2="100.70" y2="298.60" stroke="#000" stroke-width="0.8" stroke-opacity="0.55"/>
<line x1="107.63" y1="257.2" x2="107.63" y2="298.60" stroke="#000" stroke-width="0.8" stroke-opacity="0.55"/>
<line x1="114.56" y1="257.2" x2="114.56" y2="298.60" stroke="#000" stroke-width="0.8" stroke-opacity="0.55"/>
<line x1="121.49" y1="257.2" x2="121.49" y2="298.60" stroke="#000" stroke-width="0.8" stroke-opacity="0.55"/>
<line x1="128.42" y1="257.2" x2="128.42" y2="298.60" stroke="#000" stroke-width="0.8" stroke-opacity="0.55"/>
<line x1="135.35" y1="257.2" x2="135.35" y2="298.60" stroke="#000" stroke-width="0.8" stroke-opacity="0.55"/>
<line x1="142.28" y1="257.2" x2="142.28" y2="298.60" stroke="#000" stroke-width="0.8" stroke-opacity="0.55"/>
<line x1="149.21" y1="257.2" x2="149.21" y2="298.60" stroke="#000" stroke-width="0.8" stroke-opacity="0.55"/>
<line x1="156.14" y1="257.2" x2="156.14" y2="298.60" stroke="#000" stroke-width="0.8" stroke-opacity="0.55"/>
<line x1="163.07" y1="257.2" x2="163.07" y2="298.60" stroke="#000" stroke-width="0.8" stroke-opacity="0.55"/>
<line x1="170.00" y1="257.2" x2="170.00" y2="298.60" stroke="#000" stroke-width="0.8" stroke-opacity="0.55"/>
<line x1="176.93" y1="257.2" x2="176.93" y2="298.60" stroke="#000" stroke-width="0.8" stroke-opacity="0.55"/>
<line x1="183.86" y1="257.2" x2="183.86" y2="298.60" stroke="#000" stroke-width="0.8" stroke-opacity="0.55"/>
<line x1="190.79" y1="257.2" x2="190.79" y2="298.60" stroke="#000" stroke-width="0.8" stroke-opacity="0.55"/>
<line x1="31.4" y1="264.10" x2="197.72" y2="264.10" stroke="#000" stroke-width="0.8" stroke-opacity="0.55"/>
<line x1="31.4" y1="271.00" x2="197.72" y2="271.00" stroke="#000" stroke-width="0.8" stroke-opacity="0.55"/>
<line x1="31.4" y1="277.90" x2="197.72" y2="277.90" stroke="#000" stroke-width="0.8" stroke-opacity="0.55"/>
<line x1="31.4" y1="284.80" x2="197.72" y2="284.80" stroke="#000" stroke-width="0.8" stroke-opacity="0.55"/>
<line x1="31.4" y1="291.70" x2="197.72" y2="291.70" stroke="#000" stroke-width="0.8" stroke-opacity="0.55"/>
<rect x="31.4" y="257.2" width="166.32" height="41.40" fill="none" stroke="#111" stroke-width="0.9"/>
<text transform="translate(37.96,253.3) rotate(-90)" font-size="6.4" text-anchor="start" fill="#111" textLength="12.46" lengthAdjust="spacingAndGlyphs" stroke="#111" stroke-width="0.16">HSC</text>
<text transform="translate(44.9,253.3) rotate(-90)" font-size="6.4" text-anchor="start" fill="#111" textLength="26.67" lengthAdjust="spacingAndGlyphs" stroke="#111" stroke-width="0.16">Early.ERY</text>
<text transform="translate(51.82,253.3) rotate(-90)" font-size="6.4" text-anchor="start" fill="#111" textLength="26.78" lengthAdjust="spacingAndGlyphs" stroke="#111" stroke-width="0.16">GMP.Neut</text>
<text transform="translate(58.76,253.3) rotate(-90)" font-size="6.4" text-anchor="start" fill="#111" textLength="30.06" lengthAdjust="spacingAndGlyphs" stroke="#111" stroke-width="0.16">CMP.LMPP</text>
<text transform="translate(65.68,253.3) rotate(-90)" font-size="6.4" text-anchor="start" fill="#111" textLength="28.09" lengthAdjust="spacingAndGlyphs" stroke="#111" stroke-width="0.16">Early.Baso</text>
<text transform="translate(72.61,253.3) rotate(-90)" font-size="6.4" text-anchor="start" fill="#111" textLength="15.64" lengthAdjust="spacingAndGlyphs" stroke="#111" stroke-width="0.16">CLP.1</text>
<text transform="translate(79.54,253.3) rotate(-90)" font-size="6.4" text-anchor="start" fill="#111" textLength="11.47" lengthAdjust="spacingAndGlyphs" stroke="#111" stroke-width="0.16">cDC</text>
<text transform="translate(86.47,253.3) rotate(-90)" font-size="6.4" text-anchor="start" fill="#111" textLength="36.40" lengthAdjust="spacingAndGlyphs" stroke="#111" stroke-width="0.16">CD14.Mono.2</text>
<text transform="translate(93.41,253.3) rotate(-90)" font-size="6.4" text-anchor="start" fill="#111" textLength="36.40" lengthAdjust="spacingAndGlyphs" stroke="#111" stroke-width="0.16">CD14.Mono.1</text>
<text transform="translate(100.33,253.3) rotate(-90)" font-size="6.4" text-anchor="start" fill="#111" textLength="13.44" lengthAdjust="spacingAndGlyphs" stroke="#111" stroke-width="0.16">GMP</text>
<text transform="translate(107.26,253.3) rotate(-90)" font-size="6.4" text-anchor="start" fill="#111" textLength="25.15" lengthAdjust="spacingAndGlyphs" stroke="#111" stroke-width="0.16">Late.ERY</text>
<text transform="translate(114.19,253.3) rotate(-90)" font-size="6.4" text-anchor="start" fill="#111" textLength="14.76" lengthAdjust="spacingAndGlyphs" stroke="#111" stroke-width="0.16">Pre.B</text>
<text transform="translate(121.12,253.3) rotate(-90)" font-size="6.4" text-anchor="start" fill="#111" textLength="15.64" lengthAdjust="spacingAndGlyphs" stroke="#111" stroke-width="0.16">CLP.2</text>
<text transform="translate(128.05,253.3) rotate(-90)" font-size="6.4" text-anchor="start" fill="#111" textLength="8.20" lengthAdjust="spacingAndGlyphs" stroke="#111" stroke-width="0.16">PC</text>
<text transform="translate(134.98,253.3) rotate(-90)" font-size="6.4" text-anchor="start" fill="#111" textLength="11.80" lengthAdjust="spacingAndGlyphs" stroke="#111" stroke-width="0.16">pDC</text>
<text transform="translate(141.91,253.3) rotate(-90)" font-size="6.4" text-anchor="start" fill="#111" textLength="31.48" lengthAdjust="spacingAndGlyphs" stroke="#111" stroke-width="0.16">CD16.Mono</text>
<text transform="translate(148.84,253.3) rotate(-90)" font-size="6.4" text-anchor="start" fill="#111" textLength="8.20" lengthAdjust="spacingAndGlyphs" stroke="#111" stroke-width="0.16">NK</text>
<text transform="translate(155.77,253.3) rotate(-90)" font-size="6.4" text-anchor="start" fill="#111" textLength="20.98" lengthAdjust="spacingAndGlyphs" stroke="#111" stroke-width="0.16">CD4.N2</text>
<text transform="translate(162.7,253.3) rotate(-90)" font-size="6.4" text-anchor="start" fill="#111" textLength="20.98" lengthAdjust="spacingAndGlyphs" stroke="#111" stroke-width="0.16">CD4.N1</text>
<text transform="translate(169.63,253.3) rotate(-90)" font-size="6.4" text-anchor="start" fill="#111" textLength="17.70" lengthAdjust="spacingAndGlyphs" stroke="#111" stroke-width="0.16">CD8.N</text>
<text transform="translate(176.56,253.3) rotate(-90)" font-size="6.4" text-anchor="start" fill="#111" textLength="3.94" lengthAdjust="spacingAndGlyphs" stroke="#111" stroke-width="0.16">B</text>
<text transform="translate(183.5,253.3) rotate(-90)" font-size="6.4" text-anchor="start" fill="#111" textLength="18.36" lengthAdjust="spacingAndGlyphs" stroke="#111" stroke-width="0.16">CD4.M</text>
<text transform="translate(190.42,253.3) rotate(-90)" font-size="6.4" text-anchor="start" fill="#111" textLength="22.29" lengthAdjust="spacingAndGlyphs" stroke="#111" stroke-width="0.16">CD8.EM</text>
<text transform="translate(197.35,253.3) rotate(-90)" font-size="6.4" text-anchor="start" fill="#111" textLength="22.62" lengthAdjust="spacingAndGlyphs" stroke="#111" stroke-width="0.16">CD8.CM</text>
<text x="200.9" y="263.25" font-size="6.1" text-anchor="start" font-weight="normal" font-style="italic" fill="#222"  stroke="#222" stroke-width="0.16">PPM1H</text>
<text x="200.9" y="270.15" font-size="6.1" text-anchor="start" font-weight="normal" font-style="italic" fill="#222"  stroke="#222" stroke-width="0.16">ITGA9</text>
<text x="200.9" y="277.05" font-size="6.1" text-anchor="start" font-weight="normal" font-style="italic" fill="#222"  stroke="#222" stroke-width="0.16">CEBPA</text>
<text x="200.9" y="283.95" font-size="6.1" text-anchor="start" font-weight="normal" font-style="italic" fill="#222"  stroke="#222" stroke-width="0.16">RERE</text>
<text x="200.9" y="290.85" font-size="6.1" text-anchor="start" font-weight="normal" font-style="italic" fill="#222"  stroke="#222" stroke-width="0.16">ENO1</text>
<text x="200.9" y="297.75" font-size="6.1" text-anchor="start" font-weight="normal" font-style="italic" fill="#222"  stroke="#222" stroke-width="0.16">CXCR4</text>
<rect x="31.9" y="306.2" width="165.6" height="6.1" fill="url(#cbC)"/>
<text x="31.9" y="321.7" font-size="6.6" text-anchor="middle" font-weight="normal" font-style="normal" fill="#333"  stroke="#333" stroke-width="0.16">−3.00</text>
<text x="114.7" y="321.7" font-size="6.6" text-anchor="middle" font-weight="normal" font-style="normal" fill="#333"  stroke="#333" stroke-width="0.16">0.00</text>
<text x="198.5" y="321.7" font-size="6.6" text-anchor="middle" font-weight="normal" font-style="normal" fill="#333"  stroke="#333" stroke-width="0.16">3.00</text>
<text x="248.6" y="185.9" font-size="11" text-anchor="start" font-weight="bold" font-style="normal" fill="#111"  stroke="#111" stroke-width="0.16">D</text>
<rect x="259.30" y="250.00" width="6.93" height="6.90" fill="#ee6a6a"/>
<rect x="266.23" y="250.00" width="6.93" height="6.90" fill="#ee7c7c"/>
<rect x="273.16" y="250.00" width="6.93" height="6.90" fill="#ee8080"/>
<rect x="280.09" y="250.00" width="6.93" height="6.90" fill="#ee6565"/>
<rect x="287.02" y="250.00" width="6.93" height="6.90" fill="#ee6565"/>
<rect x="293.95" y="250.00" width="6.93" height="6.90" fill="#f1bebe"/>
<rect x="300.88" y="250.00" width="6.93" height="6.90" fill="#3c68c4"/>
<rect x="307.81" y="250.00" width="6.93" height="6.90" fill="#4670c9"/>
<rect x="314.74" y="250.00" width="6.93" height="6.90" fill="#4670c9"/>
<rect x="321.67" y="250.00" width="6.93" height="6.90" fill="#3c68c4"/>
<rect x="328.60" y="250.00" width="6.93" height="6.90" fill="#f01e28"/>
<rect x="335.53" y="250.00" width="6.93" height="6.90" fill="#f2cbcb"/>
<rect x="342.46" y="250.00" width="6.93" height="6.90" fill="#88a6e0"/>
<rect x="349.39" y="250.00" width="6.93" height="6.90" fill="#d0dcf0"/>
<rect x="356.32" y="250.00" width="6.93" height="6.90" fill="#c5d5ee"/>
<rect x="363.25" y="250.00" width="6.93" height="6.90" fill="#98b4e4"/>
<rect x="259.30" y="256.90" width="6.93" height="6.90" fill="#d6dfef"/>
<rect x="266.23" y="256.90" width="6.93" height="6.90" fill="#f1baba"/>
<rect x="273.16" y="256.90" width="6.93" height="6.90" fill="#f0b0b0"/>
<rect x="280.09" y="256.90" width="6.93" height="6.90" fill="#ef363c"/>
<rect x="287.02" y="256.90" width="6.93" height="6.90" fill="#ee4f52"/>
<rect x="293.95" y="256.90" width="6.93" height="6.90" fill="#88a6e0"/>
<rect x="300.88" y="256.90" width="6.93" height="6.90" fill="#7697d8"/>
<rect x="307.81" y="256.90" width="6.93" height="6.90" fill="#5a80cc"/>
<rect x="314.74" y="256.90" width="6.93" height="6.90" fill="#4d76cb"/>
<rect x="321.67" y="256.90" width="6.93" height="6.90" fill="#5a80cc"/>
<rect x="328.60" y="256.90" width="6.93" height="6.90" fill="#f2d3d3"/>
<rect x="335.53" y="256.90" width="6.93" height="6.90" fill="#f2c4c4"/>
<rect x="342.46" y="256.90" width="6.93" height="6.90" fill="#d6dfef"/>
<rect x="349.39" y="256.90" width="6.93" height="6.90" fill="#f2c4c4"/>
<rect x="356.32" y="256.90" width="6.93" height="6.90" fill="#f2c4c4"/>
<rect x="363.25" y="256.90" width="6.93" height="6.90" fill="#b0c6ea"/>
<rect x="259.30" y="263.80" width="6.93" height="6.90" fill="#406bc6"/>
<rect x="266.23" y="263.80" width="6.93" height="6.90" fill="#95b1e3"/>
<rect x="273.16" y="263.80" width="6.93" height="6.90" fill="#678bd2"/>
<rect x="280.09" y="263.80" width="6.93" height="6.90" fill="#d0dcf0"/>
<rect x="287.02" y="263.80" width="6.93" height="6.90" fill="#9db8e5"/>
<rect x="293.95" y="263.80" width="6.93" height="6.90" fill="#557ccb"/>
<rect x="300.88" y="263.80" width="6.93" height="6.90" fill="#f1bebe"/>
<rect x="307.81" y="263.80" width="6.93" height="6.90" fill="#a4bde7"/>
<rect x="314.74" y="263.80" width="6.93" height="6.90" fill="#ee8080"/>
<rect x="321.67" y="263.80" width="6.93" height="6.90" fill="#4670c9"/>
<rect x="328.60" y="263.80" width="6.93" height="6.90" fill="#f01e28"/>
<rect x="335.53" y="263.80" width="6.93" height="6.90" fill="#f2c8c8"/>
<rect x="342.46" y="263.80" width="6.93" height="6.90" fill="#f01e28"/>
<rect x="349.39" y="263.80" width="6.93" height="6.90" fill="#ee5557"/>
<rect x="356.32" y="263.80" width="6.93" height="6.90" fill="#ee6a6a"/>
<rect x="363.25" y="263.80" width="6.93" height="6.90" fill="#ee6a6a"/>
<rect x="259.30" y="270.70" width="6.93" height="6.90" fill="#ececec"/>
<rect x="266.23" y="270.70" width="6.93" height="6.90" fill="#f2c4c4"/>
<rect x="273.16" y="270.70" width="6.93" height="6.90" fill="#eee7e7"/>
<rect x="280.09" y="270.70" width="6.93" height="6.90" fill="#f2c4c4"/>
<rect x="287.02" y="270.70" width="6.93" height="6.90" fill="#b0c6ea"/>
<rect x="293.95" y="270.70" width="6.93" height="6.90" fill="#88a6e0"/>
<rect x="300.88" y="270.70" width="6.93" height="6.90" fill="#b0c6ea"/>
<rect x="307.81" y="270.70" width="6.93" height="6.90" fill="#a4bde7"/>
<rect x="314.74" y="270.70" width="6.93" height="6.90" fill="#f2dada"/>
<rect x="321.67" y="270.70" width="6.93" height="6.90" fill="#88a6e0"/>
<rect x="328.60" y="270.70" width="6.93" height="6.90" fill="#e3e7ed"/>
<rect x="335.53" y="270.70" width="6.93" height="6.90" fill="#f1baba"/>
<rect x="342.46" y="270.70" width="6.93" height="6.90" fill="#f2c4c4"/>
<rect x="349.39" y="270.70" width="6.93" height="6.90" fill="#f0abab"/>
<rect x="356.32" y="270.70" width="6.93" height="6.90" fill="#f0b0b0"/>
<rect x="363.25" y="270.70" width="6.93" height="6.90" fill="#f0b0b0"/>
<rect x="259.30" y="277.60" width="6.93" height="6.90" fill="#d9e1ef"/>
<rect x="266.23" y="277.60" width="6.93" height="6.90" fill="#ececec"/>
<rect x="273.16" y="277.60" width="6.93" height="6.90" fill="#ececec"/>
<rect x="280.09" y="277.60" width="6.93" height="6.90" fill="#ececec"/>
<rect x="287.02" y="277.60" width="6.93" height="6.90" fill="#a4bde7"/>
<rect x="293.95" y="277.60" width="6.93" height="6.90" fill="#5a80cc"/>
<rect x="300.88" y="277.60" width="6.93" height="6.90" fill="#f01e28"/>
<rect x="307.81" y="277.60" width="6.93" height="6.90" fill="#ee6a6a"/>
<rect x="314.74" y="277.60" width="6.93" height="6.90" fill="#ef8c8c"/>
<rect x="321.67" y="277.60" width="6.93" height="6.90" fill="#ee6565"/>
<rect x="328.60" y="277.60" width="6.93" height="6.90" fill="#98b4e4"/>
<rect x="335.53" y="277.60" width="6.93" height="6.90" fill="#ececec"/>
<rect x="342.46" y="277.60" width="6.93" height="6.90" fill="#b0c6ea"/>
<rect x="349.39" y="277.60" width="6.93" height="6.90" fill="#d6dfef"/>
<rect x="356.32" y="277.60" width="6.93" height="6.90" fill="#d0dcf0"/>
<rect x="363.25" y="277.60" width="6.93" height="6.90" fill="#d6dfef"/>
<rect x="259.30" y="284.50" width="6.93" height="6.90" fill="#f09898"/>
<rect x="266.23" y="284.50" width="6.93" height="6.90" fill="#f09898"/>
<rect x="273.16" y="284.50" width="6.93" height="6.90" fill="#f0abab"/>
<rect x="280.09" y="284.50" width="6.93" height="6.90" fill="#f2c4c4"/>
<rect x="287.02" y="284.50" width="6.93" height="6.90" fill="#90ade2"/>
<rect x="293.95" y="284.50" width="6.93" height="6.90" fill="#5a80cc"/>
<rect x="300.88" y="284.50" width="6.93" height="6.90" fill="#f0232c"/>
<rect x="307.81" y="284.50" width="6.93" height="6.90" fill="#ee6a6a"/>
<rect x="314.74" y="284.50" width="6.93" height="6.90" fill="#f1dede"/>
<rect x="321.67" y="284.50" width="6.93" height="6.90" fill="#88a6e0"/>
<rect x="328.60" y="284.50" width="6.93" height="6.90" fill="#98b4e4"/>
<rect x="335.53" y="284.50" width="6.93" height="6.90" fill="#f2c4c4"/>
<rect x="342.46" y="284.50" width="6.93" height="6.90" fill="#b0c6ea"/>
<rect x="349.39" y="284.50" width="6.93" height="6.90" fill="#ececec"/>
<rect x="356.32" y="284.50" width="6.93" height="6.90" fill="#bbcdec"/>
<rect x="363.25" y="284.50" width="6.93" height="6.90" fill="#e3e7ed"/>
<rect x="259.30" y="291.40" width="6.93" height="6.90" fill="#f2c4c4"/>
<rect x="266.23" y="291.40" width="6.93" height="6.90" fill="#ececec"/>
<rect x="273.16" y="291.40" width="6.93" height="6.90" fill="#f2dada"/>
<rect x="280.09" y="291.40" width="6.93" height="6.90" fill="#6c8fd4"/>
<rect x="287.02" y="291.40" width="6.93" height="6.90" fill="#5a80cc"/>
<rect x="293.95" y="291.40" width="6.93" height="6.90" fill="#4872ca"/>
<rect x="300.88" y="291.40" width="6.93" height="6.90" fill="#f0a8a8"/>
<rect x="307.81" y="291.40" width="6.93" height="6.90" fill="#ee4f52"/>
<rect x="314.74" y="291.40" width="6.93" height="6.90" fill="#f0b0b0"/>
<rect x="321.67" y="291.40" width="6.93" height="6.90" fill="#f01e28"/>
<rect x="328.60" y="291.40" width="6.93" height="6.90" fill="#ee6a6a"/>
<rect x="335.53" y="291.40" width="6.93" height="6.90" fill="#ececec"/>
<rect x="342.46" y="291.40" width="6.93" height="6.90" fill="#d0dcf0"/>
<rect x="349.39" y="291.40" width="6.93" height="6.90" fill="#c5d5ee"/>
<rect x="356.32" y="291.40" width="6.93" height="6.90" fill="#d0dcf0"/>
<rect x="363.25" y="291.40" width="6.93" height="6.90" fill="#c5d5ee"/>
<line x1="266.23" y1="250.0" x2="266.23" y2="298.30" stroke="#000" stroke-width="0.8" stroke-opacity="0.55"/>
<line x1="273.16" y1="250.0" x2="273.16" y2="298.30" stroke="#000" stroke-width="0.8" stroke-opacity="0.55"/>
<line x1="280.09" y1="250.0" x2="280.09" y2="298.30" stroke="#000" stroke-width="0.8" stroke-opacity="0.55"/>
<line x1="287.02" y1="250.0" x2="287.02" y2="298.30" stroke="#000" stroke-width="0.8" stroke-opacity="0.55"/>
<line x1="293.95" y1="250.0" x2="293.95" y2="298.30" stroke="#000" stroke-width="0.8" stroke-opacity="0.55"/>
<line x1="300.88" y1="250.0" x2="300.88" y2="298.30" stroke="#000" stroke-width="0.8" stroke-opacity="0.55"/>
<line x1="307.81" y1="250.0" x2="307.81" y2="298.30" stroke="#000" stroke-width="0.8" stroke-opacity="0.55"/>
<line x1="314.74" y1="250.0" x2="314.74" y2="298.30" stroke="#000" stroke-width="0.8" stroke-opacity="0.55"/>
<line x1="321.67" y1="250.0" x2="321.67" y2="298.30" stroke="#000" stroke-width="0.8" stroke-opacity="0.55"/>
<line x1="328.60" y1="250.0" x2="328.60" y2="298.30" stroke="#000" stroke-width="0.8" stroke-opacity="0.55"/>
<line x1="335.53" y1="250.0" x2="335.53" y2="298.30" stroke="#000" stroke-width="0.8" stroke-opacity="0.55"/>
<line x1="342.46" y1="250.0" x2="342.46" y2="298.30" stroke="#000" stroke-width="0.8" stroke-opacity="0.55"/>
<line x1="349.39" y1="250.0" x2="349.39" y2="298.30" stroke="#000" stroke-width="0.8" stroke-opacity="0.55"/>
<line x1="356.32" y1="250.0" x2="356.32" y2="298.30" stroke="#000" stroke-width="0.8" stroke-opacity="0.55"/>
<line x1="363.25" y1="250.0" x2="363.25" y2="298.30" stroke="#000" stroke-width="0.8" stroke-opacity="0.55"/>
<line x1="259.3" y1="256.90" x2="370.18" y2="256.90" stroke="#000" stroke-width="0.8" stroke-opacity="0.55"/>
<line x1="259.3" y1="263.80" x2="370.18" y2="263.80" stroke="#000" stroke-width="0.8" stroke-opacity="0.55"/>
<line x1="259.3" y1="270.70" x2="370.18" y2="270.70" stroke="#000" stroke-width="0.8" stroke-opacity="0.55"/>
<line x1="259.3" y1="277.60" x2="370.18" y2="277.60" stroke="#000" stroke-width="0.8" stroke-opacity="0.55"/>
<line x1="259.3" y1="284.50" x2="370.18" y2="284.50" stroke="#000" stroke-width="0.8" stroke-opacity="0.55"/>
<line x1="259.3" y1="291.40" x2="370.18" y2="291.40" stroke="#000" stroke-width="0.8" stroke-opacity="0.55"/>
<rect x="259.3" y="250.0" width="110.88" height="48.30" fill="none" stroke="#111" stroke-width="0.9"/>
<text transform="translate(265.16,246.6) rotate(-90)" font-size="6.4" text-anchor="start" fill="#111" textLength="16.06" lengthAdjust="spacingAndGlyphs" stroke="#111" stroke-width="0.16">HSC-I</text>
<text transform="translate(272.09,246.6) rotate(-90)" font-size="6.4" text-anchor="start" fill="#111" textLength="19.34" lengthAdjust="spacingAndGlyphs" stroke="#111" stroke-width="0.16">HSC-III</text>
<text transform="translate(279.02,246.6) rotate(-90)" font-size="6.4" text-anchor="start" fill="#111" textLength="17.70" lengthAdjust="spacingAndGlyphs" stroke="#111" stroke-width="0.16">HSC-II</text>
<text transform="translate(285.95,246.6) rotate(-90)" font-size="6.4" text-anchor="start" fill="#111" textLength="18.03" lengthAdjust="spacingAndGlyphs" stroke="#111" stroke-width="0.16">MPP-II</text>
<text transform="translate(292.88,246.6) rotate(-90)" font-size="6.4" text-anchor="start" fill="#111" textLength="16.39" lengthAdjust="spacingAndGlyphs" stroke="#111" stroke-width="0.16">MEP-I</text>
<text transform="translate(299.81,246.6) rotate(-90)" font-size="6.4" text-anchor="start" fill="#111" textLength="18.03" lengthAdjust="spacingAndGlyphs" stroke="#111" stroke-width="0.16">MEP-II</text>
<text transform="translate(306.75,246.6) rotate(-90)" font-size="6.4" text-anchor="start" fill="#111" textLength="9.62" lengthAdjust="spacingAndGlyphs" stroke="#111" stroke-width="0.16">Ly-I</text>
<text transform="translate(313.67,246.6) rotate(-90)" font-size="6.4" text-anchor="start" fill="#111" textLength="13.76" lengthAdjust="spacingAndGlyphs" stroke="#111" stroke-width="0.16">DC-II</text>
<text transform="translate(320.61,246.6) rotate(-90)" font-size="6.4" text-anchor="start" fill="#111" textLength="12.13" lengthAdjust="spacingAndGlyphs" stroke="#111" stroke-width="0.16">DC-I</text>
<text transform="translate(327.53,246.6) rotate(-90)" font-size="6.4" text-anchor="start" fill="#111" textLength="11.26" lengthAdjust="spacingAndGlyphs" stroke="#111" stroke-width="0.16">Ly-II</text>
<text transform="translate(334.46,246.6) rotate(-90)" font-size="6.4" text-anchor="start" fill="#111" textLength="8.85" lengthAdjust="spacingAndGlyphs" stroke="#111" stroke-width="0.16">MB</text>
<text transform="translate(341.39,246.6) rotate(-90)" font-size="6.4" text-anchor="start" fill="#111" textLength="16.39" lengthAdjust="spacingAndGlyphs" stroke="#111" stroke-width="0.16">MPP-I</text>
<text transform="translate(348.32,246.6) rotate(-90)" font-size="6.4" text-anchor="start" fill="#111" textLength="13.44" lengthAdjust="spacingAndGlyphs" stroke="#111" stroke-width="0.16">GMP</text>
<text transform="translate(355.25,246.6) rotate(-90)" font-size="6.4" text-anchor="start" fill="#111" textLength="19.67" lengthAdjust="spacingAndGlyphs" stroke="#111" stroke-width="0.16">MPP-III</text>
<text transform="translate(362.19,246.6) rotate(-90)" font-size="6.4" text-anchor="start" fill="#111" textLength="15.40" lengthAdjust="spacingAndGlyphs" stroke="#111" stroke-width="0.16">Cyc-II</text>
<text transform="translate(369.12,246.6) rotate(-90)" font-size="6.4" text-anchor="start" fill="#111" textLength="13.76" lengthAdjust="spacingAndGlyphs" stroke="#111" stroke-width="0.16">Cyc-I</text>
<text x="373.9" y="255.75" font-size="6.3" text-anchor="start" font-weight="normal" font-style="italic" fill="#222"  stroke="#222" stroke-width="0.16">PPM1H</text>
<text x="373.9" y="262.65" font-size="6.3" text-anchor="start" font-weight="normal" font-style="italic" fill="#222"  stroke="#222" stroke-width="0.16">ITGA9</text>
<text x="373.9" y="269.55" font-size="6.3" text-anchor="start" font-weight="normal" font-style="italic" fill="#222"  stroke="#222" stroke-width="0.16">CEBPA</text>
<text x="373.9" y="276.45" font-size="6.3" text-anchor="start" font-weight="normal" font-style="italic" fill="#222"  stroke="#222" stroke-width="0.16">ENO1</text>
<text x="373.9" y="283.35" font-size="6.3" text-anchor="start" font-weight="normal" font-style="italic" fill="#222"  stroke="#222" stroke-width="0.16">ARHGAP45</text>
<text x="373.9" y="290.25" font-size="6.3" text-anchor="start" font-weight="normal" font-style="italic" fill="#222"  stroke="#222" stroke-width="0.16">RERE</text>
<text x="373.9" y="297.15" font-size="6.3" text-anchor="start" font-weight="normal" font-style="italic" fill="#222"  stroke="#222" stroke-width="0.16">CXCR4</text>
<rect x="259.6" y="306.2" width="110.6" height="6.1" fill="url(#cbC)"/>
<text x="259.6" y="321.7" font-size="6.6" text-anchor="middle" font-weight="normal" font-style="normal" fill="#333"  stroke="#333" stroke-width="0.16">−1.00</text>
<text x="314.9" y="321.7" font-size="6.6" text-anchor="middle" font-weight="normal" font-style="normal" fill="#333"  stroke="#333" stroke-width="0.16">0.00</text>
<text x="370.2" y="321.7" font-size="6.6" text-anchor="middle" font-weight="normal" font-style="normal" fill="#333"  stroke="#333" stroke-width="0.16">1.00</text>
<text x="411.2" y="185.9" font-size="11" text-anchor="start" font-weight="bold" font-style="normal" fill="#111"  stroke="#111" stroke-width="0.16">E</text>
<rect x="426.80" y="250.40" width="7.03" height="6.90" fill="#ee7c7c"/>
<rect x="433.83" y="250.40" width="7.03" height="6.90" fill="#ee8080"/>
<rect x="440.86" y="250.40" width="7.03" height="6.90" fill="#ee7c7c"/>
<rect x="447.89" y="250.40" width="7.03" height="6.90" fill="#ee8585"/>
<rect x="454.92" y="250.40" width="7.03" height="6.90" fill="#8ba9e1"/>
<rect x="461.95" y="250.40" width="7.03" height="6.90" fill="#4670c9"/>
<rect x="426.80" y="257.30" width="7.03" height="6.90" fill="#f1dede"/>
<rect x="433.83" y="257.30" width="7.03" height="6.90" fill="#f2d3d3"/>
<rect x="440.86" y="257.30" width="7.03" height="6.90" fill="#ee8585"/>
<rect x="447.89" y="257.30" width="7.03" height="6.90" fill="#f0a0a0"/>
<rect x="454.92" y="257.30" width="7.03" height="6.90" fill="#95b1e3"/>
<rect x="461.95" y="257.30" width="7.03" height="6.90" fill="#b0c6ea"/>
<rect x="426.80" y="264.20" width="7.03" height="6.90" fill="#5179cb"/>
<rect x="433.83" y="264.20" width="7.03" height="6.90" fill="#90ade2"/>
<rect x="440.86" y="264.20" width="7.03" height="6.90" fill="#b0c6ea"/>
<rect x="447.89" y="264.20" width="7.03" height="6.90" fill="#f0b0b0"/>
<rect x="454.92" y="264.20" width="7.03" height="6.90" fill="#f01e28"/>
<rect x="461.95" y="264.20" width="7.03" height="6.90" fill="#f2c8c8"/>
<rect x="426.80" y="271.10" width="7.03" height="6.90" fill="#c5d5ee"/>
<rect x="433.83" y="271.10" width="7.03" height="6.90" fill="#efe3e3"/>
<rect x="440.86" y="271.10" width="7.03" height="6.90" fill="#ececec"/>
<rect x="447.89" y="271.10" width="7.03" height="6.90" fill="#f2c4c4"/>
<rect x="454.92" y="271.10" width="7.03" height="6.90" fill="#f2c4c4"/>
<rect x="461.95" y="271.10" width="7.03" height="6.90" fill="#a4bde7"/>
<rect x="426.80" y="278.00" width="7.03" height="6.90" fill="#c5d5ee"/>
<rect x="433.83" y="278.00" width="7.03" height="6.90" fill="#98b4e4"/>
<rect x="440.86" y="278.00" width="7.03" height="6.90" fill="#a4bde7"/>
<rect x="447.89" y="278.00" width="7.03" height="6.90" fill="#d0dcf0"/>
<rect x="454.92" y="278.00" width="7.03" height="6.90" fill="#e3e7ed"/>
<rect x="461.95" y="278.00" width="7.03" height="6.90" fill="#ef363c"/>
<rect x="426.80" y="284.90" width="7.03" height="6.90" fill="#ececec"/>
<rect x="433.83" y="284.90" width="7.03" height="6.90" fill="#bbcdec"/>
<rect x="440.86" y="284.90" width="7.03" height="6.90" fill="#98b4e4"/>
<rect x="447.89" y="284.90" width="7.03" height="6.90" fill="#b0c6ea"/>
<rect x="454.92" y="284.90" width="7.03" height="6.90" fill="#a4bde7"/>
<rect x="461.95" y="284.90" width="7.03" height="6.90" fill="#ee4246"/>
<rect x="426.80" y="291.80" width="7.03" height="6.90" fill="#f2c8c8"/>
<rect x="433.83" y="291.80" width="7.03" height="6.90" fill="#f1dede"/>
<rect x="440.86" y="291.80" width="7.03" height="6.90" fill="#7697d8"/>
<rect x="447.89" y="291.80" width="7.03" height="6.90" fill="#d6dfef"/>
<rect x="454.92" y="291.80" width="7.03" height="6.90" fill="#f2c4c4"/>
<rect x="461.95" y="291.80" width="7.03" height="6.90" fill="#f0a8a8"/>
<line x1="433.83" y1="250.4" x2="433.83" y2="298.70" stroke="#000" stroke-width="0.8" stroke-opacity="0.55"/>
<line x1="440.86" y1="250.4" x2="440.86" y2="298.70" stroke="#000" stroke-width="0.8" stroke-opacity="0.55"/>
<line x1="447.89" y1="250.4" x2="447.89" y2="298.70" stroke="#000" stroke-width="0.8" stroke-opacity="0.55"/>
<line x1="454.92" y1="250.4" x2="454.92" y2="298.70" stroke="#000" stroke-width="0.8" stroke-opacity="0.55"/>
<line x1="461.95" y1="250.4" x2="461.95" y2="298.70" stroke="#000" stroke-width="0.8" stroke-opacity="0.55"/>
<line x1="426.8" y1="257.30" x2="468.98" y2="257.30" stroke="#000" stroke-width="0.8" stroke-opacity="0.55"/>
<line x1="426.8" y1="264.20" x2="468.98" y2="264.20" stroke="#000" stroke-width="0.8" stroke-opacity="0.55"/>
<line x1="426.8" y1="271.10" x2="468.98" y2="271.10" stroke="#000" stroke-width="0.8" stroke-opacity="0.55"/>
<line x1="426.8" y1="278.00" x2="468.98" y2="278.00" stroke="#000" stroke-width="0.8" stroke-opacity="0.55"/>
<line x1="426.8" y1="284.90" x2="468.98" y2="284.90" stroke="#000" stroke-width="0.8" stroke-opacity="0.55"/>
<line x1="426.8" y1="291.80" x2="468.98" y2="291.80" stroke="#000" stroke-width="0.8" stroke-opacity="0.55"/>
<rect x="426.8" y="250.4" width="42.18" height="48.30" fill="none" stroke="#111" stroke-width="0.9"/>
<text transform="translate(432.71,247.6) rotate(-90)" font-size="6.3" text-anchor="start" fill="#111" textLength="54.0" lengthAdjust="spacingAndGlyphs" stroke="#111" stroke-width="0.16">38−45RA−90+ HSC</text>
<text transform="translate(439.75,247.6) rotate(-90)" font-size="6.3" text-anchor="start" fill="#111" textLength="54.0" lengthAdjust="spacingAndGlyphs" stroke="#111" stroke-width="0.16">38−45RA−90− MPP</text>
<text transform="translate(446.77,247.6) rotate(-90)" font-size="6.3" text-anchor="start" fill="#111" textLength="68.6" lengthAdjust="spacingAndGlyphs" stroke="#111" stroke-width="0.16">38+45RA−123−10− MEP</text>
<text transform="translate(453.81,247.6) rotate(-90)" font-size="6.3" text-anchor="start" fill="#111" textLength="70.3" lengthAdjust="spacingAndGlyphs" stroke="#111" stroke-width="0.16">38+45RA−123+10− CMP</text>
<text transform="translate(460.83,247.6) rotate(-90)" font-size="6.3" text-anchor="start" fill="#111" textLength="72.2" lengthAdjust="spacingAndGlyphs" stroke="#111" stroke-width="0.16">38+45RA+123+10− GMP</text>
<text transform="translate(467.87,247.6) rotate(-90)" font-size="6.3" text-anchor="start" fill="#111" textLength="57.9" lengthAdjust="spacingAndGlyphs" stroke="#111" stroke-width="0.16">38−45RA+90− LMPP</text>
<text x="472.3" y="256.15" font-size="6.3" text-anchor="start" font-weight="normal" font-style="italic" fill="#222"  stroke="#222" stroke-width="0.16">PPM1H</text>
<text x="472.3" y="263.05" font-size="6.3" text-anchor="start" font-weight="normal" font-style="italic" fill="#222"  stroke="#222" stroke-width="0.16">ITGA9</text>
<text x="472.3" y="269.95" font-size="6.3" text-anchor="start" font-weight="normal" font-style="italic" fill="#222"  stroke="#222" stroke-width="0.16">CEBPA</text>
<text x="472.3" y="276.85" font-size="6.3" text-anchor="start" font-weight="normal" font-style="italic" fill="#222"  stroke="#222" stroke-width="0.16">ENO1</text>
<text x="472.3" y="283.75" font-size="6.3" text-anchor="start" font-weight="normal" font-style="italic" fill="#222"  stroke="#222" stroke-width="0.16">ARHGAP45</text>
<text x="472.3" y="290.65" font-size="6.3" text-anchor="start" font-weight="normal" font-style="italic" fill="#222"  stroke="#222" stroke-width="0.16">RERE</text>
<text x="472.3" y="297.55" font-size="6.3" text-anchor="start" font-weight="normal" font-style="italic" fill="#222"  stroke="#222" stroke-width="0.16">CXCR4</text>
<rect x="426.7" y="306.4" width="42.3" height="6.1" fill="url(#cbC)"/>
<text x="426.7" y="321.7" font-size="6.6" text-anchor="middle" font-weight="normal" font-style="normal" fill="#333"  stroke="#333" stroke-width="0.16">−1.00</text>
<text x="448.6" y="321.7" font-size="6.6" text-anchor="middle" font-weight="normal" font-style="normal" fill="#333"  stroke="#333" stroke-width="0.16">0.00</text>
<text x="470.8" y="321.7" font-size="6.6" text-anchor="middle" font-weight="normal" font-style="normal" fill="#333"  stroke="#333" stroke-width="0.16">1.00</text>
<path d="M34.86,209.70L34.86,234.00 M41.80,209.70L41.80,218.80 M34.86,209.70L41.80,209.70 M48.72,209.70L48.72,215.00 M55.66,209.70L55.66,214.50 M48.72,209.70L55.66,209.70 M38.33,207.80L38.33,209.70 M52.19,207.80L52.19,209.70 M38.33,207.80L52.19,207.80 M45.26,205.50L45.26,207.80 M62.58,205.50L62.58,217.20 M45.26,205.50L62.58,205.50 M53.92,202.80L53.92,205.50 M69.51,202.80L69.51,231.80 M53.92,202.80L69.51,202.80 M90.31,207.60L90.31,209.50 M97.23,207.60L97.23,236.20 M90.31,207.60L97.23,207.60 M83.38,205.30L83.38,209.50 M93.77,205.30L93.77,207.60 M83.38,205.30L93.77,205.30 M76.44,202.60L76.44,237.30 M88.57,202.60L88.57,205.30 M76.44,202.60L88.57,202.60 M61.72,200.30L61.72,202.80 M82.51,200.30L82.51,202.60 M61.72,200.30L82.51,200.30 M72.11,198.00L72.11,200.30 M104.16,198.00L104.16,220.50 M72.11,198.00L104.16,198.00 M111.09,200.40L111.09,229.80 M118.03,200.40L118.03,227.00 M111.09,200.40L118.03,200.40 M124.95,200.40L124.95,236.80 M131.88,200.40L131.88,233.50 M124.95,200.40L131.88,200.40 M114.56,198.50L114.56,200.40 M128.42,198.50L128.42,200.40 M114.56,198.50L128.42,198.50 M88.14,196.20L88.14,198.00 M121.49,196.20L121.49,198.50 M88.14,196.20L121.49,196.20 M104.81,193.80L104.81,196.20 M138.81,193.80L138.81,213.30 M104.81,193.80L138.81,193.80 M159.60,201.20L159.60,228.80 M166.53,201.20L166.53,228.80 M159.60,201.20L166.53,201.20 M152.67,198.70L152.67,224.30 M163.07,198.70L163.07,201.20 M152.67,198.70L163.07,198.70 M187.32,203.50L187.32,224.30 M194.25,203.50L194.25,225.20 M187.32,203.50L194.25,203.50 M180.40,200.80L180.40,227.90 M190.79,200.80L190.79,203.50 M180.40,200.80L190.79,200.80 M173.47,198.70L173.47,240.70 M185.59,198.70L185.59,200.80 M173.47,198.70L185.59,198.70 M157.87,196.40L157.87,198.70 M179.53,196.40L179.53,198.70 M157.87,196.40L179.53,196.40 M145.75,193.60L145.75,233.00 M168.70,193.60L168.70,196.40 M145.75,193.60L168.70,193.60 M121.81,191.50L121.81,193.80 M157.22,191.50L157.22,193.60 M121.81,191.50L157.22,191.50" stroke="#444" stroke-width="0.9" fill="none"/>
<path d="M269.69,216.50L269.69,222.90 M276.62,216.50L276.62,224.30 M269.69,216.50L276.62,216.50 M262.76,214.20L262.76,226.60 M273.16,214.20L273.16,216.50 M262.76,214.20L273.16,214.20 M283.56,216.50L283.56,224.30 M290.49,216.50L290.49,224.70 M283.56,216.50L290.49,216.50 M287.02,214.20L287.02,216.50 M297.42,214.20L297.42,224.20 M287.02,214.20L297.42,214.20 M267.96,211.90L267.96,214.20 M292.22,211.90L292.22,214.20 M267.96,211.90L292.22,211.90 M311.27,218.70L311.27,228.40 M318.21,218.70L318.21,229.70 M311.27,218.70L318.21,218.70 M304.35,216.50L304.35,231.80 M314.74,216.50L314.74,218.70 M304.35,216.50L314.74,216.50 M309.54,214.20L309.54,216.50 M325.13,214.20L325.13,229.50 M309.54,214.20L325.13,214.20 M352.86,223.30L352.86,224.50 M359.79,223.30L359.79,226.90 M352.86,223.30L359.79,223.30 M345.93,221.20L345.93,227.70 M356.32,221.20L356.32,223.30 M345.93,221.20L356.32,221.20 M351.12,218.80L351.12,221.20 M366.72,218.80L366.72,227.70 M351.12,218.80L366.72,218.80 M339.00,216.40L339.00,225.40 M358.92,216.40L358.92,218.80 M339.00,216.40L358.92,216.40 M332.06,214.20L332.06,233.20 M348.96,214.20L348.96,216.40 M332.06,214.20L348.96,214.20 M317.34,211.50L317.34,214.20 M340.51,211.50L340.51,214.20 M317.34,211.50L340.51,211.50 M280.09,209.50L280.09,211.90 M328.92,209.50L328.92,211.50 M280.09,209.50L328.92,209.50" stroke="#444" stroke-width="0.9" fill="none"/>
<path d="M25.00,267.55L27.70,267.55 M25.00,274.45L27.70,274.45 M25.00,267.55L25.00,274.45 M22.70,260.65L27.70,260.65 M22.70,271.00L25.00,271.00 M22.70,260.65L22.70,271.00 M20.40,265.82L22.70,265.82 M20.40,281.35L27.70,281.35 M20.40,265.82L20.40,281.35 M20.50,288.25L27.70,288.25 M20.50,295.15L27.70,295.15 M20.50,288.25L20.50,295.15 M18.00,273.59L20.40,273.59 M18.00,291.70L20.50,291.70 M18.00,273.59L18.00,291.70" stroke="#666" stroke-width="0.8" fill="none"/>
<path d="M253.70,260.35L255.90,260.35 M253.70,267.25L255.90,267.25 M253.70,260.35L253.70,267.25 M250.70,253.45L255.90,253.45 M250.70,263.80L253.70,263.80 M250.70,253.45L250.70,263.80 M253.40,274.15L255.90,274.15 M253.40,281.05L255.90,281.05 M253.40,274.15L253.40,281.05 M253.40,287.95L255.90,287.95 M253.40,294.85L255.90,294.85 M253.40,287.95L253.40,294.85 M251.10,277.60L253.40,277.60 M251.10,291.40L253.40,291.40 M251.10,277.60L251.10,291.40 M248.40,258.62L250.70,258.62 M248.40,284.50L251.10,284.50 M248.40,258.62L248.40,284.50" stroke="#666" stroke-width="0.8" fill="none"/>
<rect x="0.5" y="0.5" width="519" height="327" fill="none" stroke="#000" stroke-width="1.2"/>
</svg></body></html>
